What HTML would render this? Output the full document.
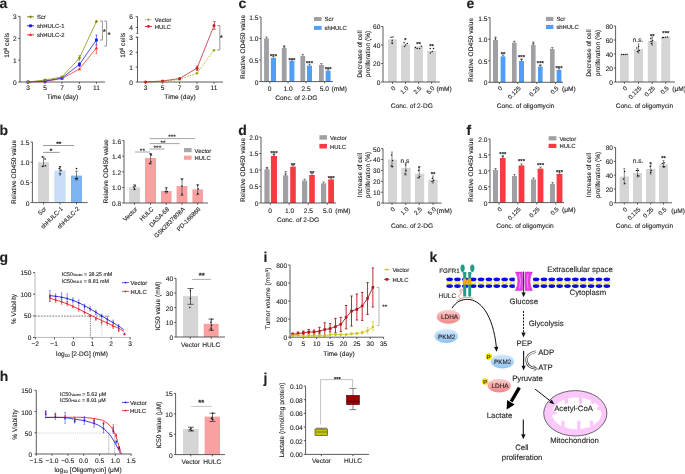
<!DOCTYPE html>
<html><head><meta charset="utf-8"><style>
html,body{margin:0;padding:0;background:#fff;width:685px;height:474px;overflow:hidden}
text{stroke:#231f20;stroke-width:0.12px}
svg{display:block;will-change:transform;text-rendering:geometricPrecision;font-family:"Liberation Sans",sans-serif;fill:#231f20}
</style></head><body>
<svg width="685" height="474" viewBox="0 0 685 474">
<rect width="685" height="474" fill="#fff"/>
<text x="-0.6" y="7.7" font-size="14" font-weight="bold">a</text>
<line x1="20" y1="16.4" x2="20" y2="82" stroke="#333333" stroke-width="0.8"/>
<line x1="18.2" y1="16.4" x2="20" y2="16.4" stroke="#333333" stroke-width="0.8"/>
<text x="16.6" y="19.38" font-size="6.6" text-anchor="end">3</text>
<line x1="18.2" y1="38.3" x2="20" y2="38.3" stroke="#333333" stroke-width="0.8"/>
<text x="16.6" y="41.28" font-size="6.6" text-anchor="end">2</text>
<line x1="18.2" y1="60.2" x2="20" y2="60.2" stroke="#333333" stroke-width="0.8"/>
<text x="16.6" y="63.18" font-size="6.6" text-anchor="end">1</text>
<line x1="18.2" y1="82" x2="20" y2="82" stroke="#333333" stroke-width="0.8"/>
<text x="16.6" y="84.98" font-size="6.6" text-anchor="end">0</text>
<line x1="20" y1="82" x2="105" y2="82" stroke="#333333" stroke-width="0.8"/>
<line x1="28" y1="82" x2="28" y2="83.8" stroke="#333333" stroke-width="0.8"/>
<text x="28" y="90.3" font-size="6.6" text-anchor="middle">3</text>
<line x1="45" y1="82" x2="45" y2="83.8" stroke="#333333" stroke-width="0.8"/>
<text x="45" y="90.3" font-size="6.6" text-anchor="middle">5</text>
<line x1="62" y1="82" x2="62" y2="83.8" stroke="#333333" stroke-width="0.8"/>
<text x="62" y="90.3" font-size="6.6" text-anchor="middle">7</text>
<line x1="79.4" y1="82" x2="79.4" y2="83.8" stroke="#333333" stroke-width="0.8"/>
<text x="79.4" y="90.3" font-size="6.6" text-anchor="middle">9</text>
<line x1="96.4" y1="82" x2="96.4" y2="83.8" stroke="#333333" stroke-width="0.8"/>
<text x="96.4" y="90.3" font-size="6.6" text-anchor="middle">11</text>
<text x="62.5" y="98.9" font-size="6.6" text-anchor="middle">Time (day)</text>
<text x="9.3" y="45.2" font-size="6.6" text-anchor="middle" transform="rotate(-90 9.3 45.2)">10<tspan font-size="4.8" dy="-2.6">6</tspan><tspan dy="2.6"> cells</tspan></text>
<line x1="79.4" y1="60.5" x2="79.4" y2="55.5" stroke="#878700" stroke-width="0.6"/>
<line x1="78.5" y1="55.5" x2="80.3" y2="55.5" stroke="#878700" stroke-width="0.6"/>
<line x1="78.5" y1="60.5" x2="80.3" y2="60.5" stroke="#878700" stroke-width="0.6"/>
<line x1="96.4" y1="45" x2="96.4" y2="35" stroke="#1414f5" stroke-width="0.6"/>
<line x1="95.5" y1="35" x2="97.3" y2="35" stroke="#1414f5" stroke-width="0.6"/>
<line x1="95.5" y1="45" x2="97.3" y2="45" stroke="#1414f5" stroke-width="0.6"/>
<line x1="96.4" y1="53.6" x2="96.4" y2="45.6" stroke="#ff2a2a" stroke-width="0.6"/>
<line x1="95.5" y1="45.6" x2="97.3" y2="45.6" stroke="#ff2a2a" stroke-width="0.6"/>
<line x1="95.5" y1="53.6" x2="97.3" y2="53.6" stroke="#ff2a2a" stroke-width="0.6"/>
<line x1="79.4" y1="66.5" x2="79.4" y2="62.5" stroke="#1414f5" stroke-width="0.6"/>
<line x1="78.5" y1="62.5" x2="80.3" y2="62.5" stroke="#1414f5" stroke-width="0.6"/>
<line x1="78.5" y1="66.5" x2="80.3" y2="66.5" stroke="#1414f5" stroke-width="0.6"/>
<polyline points="28,82 45,81.5 62,78.5 79.4,69 96.4,48" stroke="#ff2a2a" stroke-width="0.75" fill="none"/>
<polyline points="28,82 45,81 62,78 79.4,64.5 96.4,40" stroke="#1414f5" stroke-width="0.75" fill="none"/>
<polyline points="28,82 45,80 62,77 79.4,58 96.4,21.5" stroke="#878700" stroke-width="0.75" fill="none"/>
<path d="M28 80.2L26.3 83.2L29.7 83.2Z" stroke="none" stroke-width="0.8" fill="#ff2a2a"/>
<path d="M45 79.7L43.3 82.7L46.7 82.7Z" stroke="none" stroke-width="0.8" fill="#ff2a2a"/>
<path d="M62 76.7L60.3 79.7L63.7 79.7Z" stroke="none" stroke-width="0.8" fill="#ff2a2a"/>
<path d="M79.4 67.2L77.7 70.2L81.1 70.2Z" stroke="none" stroke-width="0.8" fill="#ff2a2a"/>
<path d="M96.4 46.2L94.7 49.2L98.1 49.2Z" stroke="none" stroke-width="0.8" fill="#ff2a2a"/>
<rect x="26.6" y="80.6" width="2.8" height="2.8" fill="#1414f5"/>
<rect x="43.6" y="79.6" width="2.8" height="2.8" fill="#1414f5"/>
<rect x="60.6" y="76.6" width="2.8" height="2.8" fill="#1414f5"/>
<rect x="78" y="63.1" width="2.8" height="2.8" fill="#1414f5"/>
<rect x="95" y="38.6" width="2.8" height="2.8" fill="#1414f5"/>
<path d="M28 80.3L29.7 82L28 83.7L26.3 82Z" stroke="none" stroke-width="0.8" fill="#878700"/>
<path d="M45 78.3L46.7 80L45 81.7L43.3 80Z" stroke="none" stroke-width="0.8" fill="#878700"/>
<path d="M62 75.3L63.7 77L62 78.7L60.3 77Z" stroke="none" stroke-width="0.8" fill="#878700"/>
<path d="M79.4 56.3L81.1 58L79.4 59.7L77.7 58Z" stroke="none" stroke-width="0.8" fill="#878700"/>
<path d="M96.4 19.8L98.1 21.5L96.4 23.2L94.7 21.5Z" stroke="none" stroke-width="0.8" fill="#878700"/>
<line x1="27" y1="16.8" x2="34" y2="16.8" stroke="#878700" stroke-width="0.9"/>
<path d="M30.5 15.2L32.1 16.8L30.5 18.4L28.9 16.8Z" stroke="none" stroke-width="0.8" fill="#878700"/>
<text x="37" y="19" font-size="5.9">Scr</text>
<line x1="27" y1="25.8" x2="34" y2="25.8" stroke="#1414f5" stroke-width="0.9"/>
<rect x="29.1" y="24.4" width="2.8" height="2.8" fill="#1414f5"/>
<text x="37" y="28" font-size="5.9">shHULC-1</text>
<line x1="27" y1="34.8" x2="34" y2="34.8" stroke="#ff2a2a" stroke-width="0.9"/>
<path d="M30.5 33.1L28.8 36L32.2 36Z" stroke="none" stroke-width="0.8" fill="#ff2a2a"/>
<text x="37" y="37" font-size="5.9">shHULC-2</text>
<polyline points="100,21 102.4,21 102.4,40 100,40" stroke="#6a6a6a" stroke-width="0.7" fill="none"/>
<text x="104.3" y="34.2" font-size="6.8" text-anchor="middle" font-weight="bold">*</text>
<polyline points="104.2,21 106.6,21 106.6,46 104.2,46" stroke="#6a6a6a" stroke-width="0.7" fill="none"/>
<text x="109" y="37" font-size="6.8" text-anchor="middle" font-weight="bold">*</text>
<line x1="137.5" y1="37.2" x2="137.5" y2="82" stroke="#333333" stroke-width="0.8"/>
<line x1="137.5" y1="16.6" x2="137.5" y2="33.3" stroke="#333333" stroke-width="0.8"/>
<line x1="136.3" y1="33.3" x2="138.3" y2="33.3" stroke="#333333" stroke-width="0.7"/>
<line x1="136.3" y1="37.2" x2="138.3" y2="37.2" stroke="#333333" stroke-width="0.7"/>
<line x1="135.7" y1="16.6" x2="137.5" y2="16.6" stroke="#333333" stroke-width="0.8"/>
<text x="133" y="19.2" font-size="6.6" text-anchor="end">6</text>
<line x1="135.7" y1="27.4" x2="137.5" y2="27.4" stroke="#333333" stroke-width="0.8"/>
<text x="133" y="30" font-size="6.6" text-anchor="end">4</text>
<line x1="135.7" y1="37.2" x2="137.5" y2="37.2" stroke="#333333" stroke-width="0.8"/>
<text x="133" y="39.8" font-size="6.6" text-anchor="end">3</text>
<line x1="135.7" y1="52.3" x2="137.5" y2="52.3" stroke="#333333" stroke-width="0.8"/>
<text x="133" y="54.9" font-size="6.6" text-anchor="end">2</text>
<line x1="135.7" y1="67.1" x2="137.5" y2="67.1" stroke="#333333" stroke-width="0.8"/>
<text x="133" y="69.7" font-size="6.6" text-anchor="end">1</text>
<line x1="135.7" y1="82" x2="137.5" y2="82" stroke="#333333" stroke-width="0.8"/>
<text x="133" y="84.6" font-size="6.6" text-anchor="end">0</text>
<line x1="137.5" y1="82" x2="223" y2="82" stroke="#333333" stroke-width="0.8"/>
<line x1="145.6" y1="82" x2="145.6" y2="83.8" stroke="#333333" stroke-width="0.8"/>
<text x="145.6" y="90.3" font-size="6.6" text-anchor="middle">3</text>
<line x1="162.6" y1="82" x2="162.6" y2="83.8" stroke="#333333" stroke-width="0.8"/>
<text x="162.6" y="90.3" font-size="6.6" text-anchor="middle">5</text>
<line x1="179.6" y1="82" x2="179.6" y2="83.8" stroke="#333333" stroke-width="0.8"/>
<text x="179.6" y="90.3" font-size="6.6" text-anchor="middle">7</text>
<line x1="197" y1="82" x2="197" y2="83.8" stroke="#333333" stroke-width="0.8"/>
<text x="197" y="90.3" font-size="6.6" text-anchor="middle">9</text>
<line x1="214" y1="82" x2="214" y2="83.8" stroke="#333333" stroke-width="0.8"/>
<text x="214" y="90.3" font-size="6.6" text-anchor="middle">11</text>
<text x="180" y="98.9" font-size="6.6" text-anchor="middle">Time (day)</text>
<text x="125.3" y="45.2" font-size="6.6" text-anchor="middle" transform="rotate(-90 125.3 45.2)">10<tspan font-size="4.8" dy="-2.6">6</tspan><tspan dy="2.6"> cells</tspan></text>
<line x1="197.2" y1="70.6" x2="197.2" y2="66" stroke="#bf1e2d" stroke-width="0.7"/>
<line x1="195.9" y1="66" x2="198.5" y2="66" stroke="#bf1e2d" stroke-width="0.7"/>
<line x1="195.9" y1="70.6" x2="198.5" y2="70.6" stroke="#bf1e2d" stroke-width="0.7"/>
<line x1="214.4" y1="29.3" x2="214.4" y2="21.6" stroke="#bf1e2d" stroke-width="0.7"/>
<line x1="213.1" y1="21.6" x2="215.7" y2="21.6" stroke="#bf1e2d" stroke-width="0.7"/>
<line x1="213.1" y1="29.3" x2="215.7" y2="29.3" stroke="#bf1e2d" stroke-width="0.7"/>
<polyline points="145.6,82 162.6,81.5 179.6,79.5 197,73.3 214,50.2" stroke="#a4a400" stroke-width="0.8" fill="none" stroke-dasharray="1.6,1.2"/>
<polyline points="145.6,82 162.6,81 179.6,78.5 197,68.2 214,25.6" stroke="#bf1e2d" stroke-width="0.75" fill="none"/>
<circle cx="145.6" cy="82" r="1.3" fill="#a4a400" stroke="none" stroke-width="0.5"/>
<circle cx="162.6" cy="81.5" r="1.3" fill="#a4a400" stroke="none" stroke-width="0.5"/>
<circle cx="179.6" cy="79.5" r="1.3" fill="#a4a400" stroke="none" stroke-width="0.5"/>
<circle cx="197" cy="73.3" r="1.3" fill="#a4a400" stroke="none" stroke-width="0.5"/>
<circle cx="214" cy="50.2" r="1.3" fill="#a4a400" stroke="none" stroke-width="0.5"/>
<circle cx="145.6" cy="82" r="1.5" fill="#bf1e2d" stroke="none" stroke-width="0.5"/>
<circle cx="162.6" cy="81" r="1.5" fill="#bf1e2d" stroke="none" stroke-width="0.5"/>
<circle cx="179.6" cy="78.5" r="1.5" fill="#bf1e2d" stroke="none" stroke-width="0.5"/>
<circle cx="197" cy="68.2" r="1.5" fill="#bf1e2d" stroke="none" stroke-width="0.5"/>
<circle cx="214" cy="25.6" r="1.5" fill="#bf1e2d" stroke="none" stroke-width="0.5"/>
<line x1="145" y1="19.6" x2="152" y2="19.6" stroke="#a4a400" stroke-width="0.8" stroke-dasharray="1.2,1"/>
<circle cx="148.4" cy="19.6" r="1.2" fill="#a4a400" stroke="none" stroke-width="0.5"/>
<text x="154.8" y="21.8" font-size="5.9">Vector</text>
<line x1="145" y1="26.4" x2="152" y2="26.4" stroke="#bf1e2d" stroke-width="0.9"/>
<circle cx="148.4" cy="26.4" r="1.4" fill="#bf1e2d" stroke="none" stroke-width="0.5"/>
<text x="154.8" y="28.6" font-size="5.9">HULC</text>
<polyline points="217.2,25.6 219.8,25.6 219.8,50 217.2,50" stroke="#6a6a6a" stroke-width="0.7" fill="none"/>
<text x="221.4" y="40.3" font-size="6.8" text-anchor="middle" font-weight="bold">*</text>
<text x="-0.4" y="134.6" font-size="14" font-weight="bold">b</text>
<line x1="32.4" y1="142" x2="32.4" y2="202.6" stroke="#333333" stroke-width="0.8"/>
<line x1="30.6" y1="142" x2="32.4" y2="142" stroke="#333333" stroke-width="0.8"/>
<text x="29.4" y="144.98" font-size="6.6" text-anchor="end">1.5</text>
<line x1="30.6" y1="162.2" x2="32.4" y2="162.2" stroke="#333333" stroke-width="0.8"/>
<text x="29.4" y="165.18" font-size="6.6" text-anchor="end">1.0</text>
<line x1="30.6" y1="182.4" x2="32.4" y2="182.4" stroke="#333333" stroke-width="0.8"/>
<text x="29.4" y="185.38" font-size="6.6" text-anchor="end">0.5</text>
<line x1="30.6" y1="202.6" x2="32.4" y2="202.6" stroke="#333333" stroke-width="0.8"/>
<text x="29.4" y="205.58" font-size="6.6" text-anchor="end">0</text>
<rect x="38" y="162.2" width="11" height="40.4" fill="#d4d4d4"/>
<rect x="54.4" y="170.4" width="11.2" height="32.2" fill="#c8ddf7"/>
<rect x="71" y="175.6" width="11" height="27" fill="#7eb3f1"/>
<line x1="32.4" y1="202.6" x2="87.6" y2="202.6" stroke="#333333" stroke-width="0.8"/>
<line x1="43.5" y1="202.6" x2="43.5" y2="204.4" stroke="#333333" stroke-width="0.8"/>
<line x1="60" y1="202.6" x2="60" y2="204.4" stroke="#333333" stroke-width="0.8"/>
<line x1="76.5" y1="202.6" x2="76.5" y2="204.4" stroke="#333333" stroke-width="0.8"/>
<line x1="43.5" y1="166.4" x2="43.5" y2="157" stroke="#333333" stroke-width="0.6"/>
<line x1="42.2" y1="157" x2="44.8" y2="157" stroke="#333333" stroke-width="0.6"/>
<line x1="42.2" y1="166.4" x2="44.8" y2="166.4" stroke="#333333" stroke-width="0.6"/>
<line x1="60" y1="173.5" x2="60" y2="166.8" stroke="#333333" stroke-width="0.6"/>
<line x1="58.7" y1="166.8" x2="61.3" y2="166.8" stroke="#333333" stroke-width="0.6"/>
<line x1="58.7" y1="173.5" x2="61.3" y2="173.5" stroke="#333333" stroke-width="0.6"/>
<line x1="76.5" y1="180" x2="76.5" y2="171.2" stroke="#333333" stroke-width="0.6"/>
<line x1="75.2" y1="171.2" x2="77.8" y2="171.2" stroke="#333333" stroke-width="0.6"/>
<line x1="75.2" y1="180" x2="77.8" y2="180" stroke="#333333" stroke-width="0.6"/>
<circle cx="42.4" cy="156.9" r="0.8" fill="#111" stroke="none" stroke-width="0.5"/>
<circle cx="45.1" cy="159.1" r="0.8" fill="#111" stroke="none" stroke-width="0.5"/>
<circle cx="42.4" cy="166.4" r="0.8" fill="#111" stroke="none" stroke-width="0.5"/>
<circle cx="45.5" cy="165.7" r="0.8" fill="#111" stroke="none" stroke-width="0.5"/>
<circle cx="60.1" cy="166.8" r="0.8" fill="#111" stroke="none" stroke-width="0.5"/>
<circle cx="59.3" cy="168.6" r="0.8" fill="#111" stroke="none" stroke-width="0.5"/>
<circle cx="61" cy="170.4" r="0.8" fill="#111" stroke="none" stroke-width="0.5"/>
<circle cx="60.1" cy="174.8" r="0.8" fill="#111" stroke="none" stroke-width="0.5"/>
<circle cx="76.5" cy="168.6" r="0.8" fill="#111" stroke="none" stroke-width="0.5"/>
<circle cx="75.6" cy="178.6" r="0.8" fill="#111" stroke="none" stroke-width="0.5"/>
<circle cx="77.4" cy="178.6" r="0.8" fill="#111" stroke="none" stroke-width="0.5"/>
<line x1="43.1" y1="145.5" x2="74.3" y2="145.5" stroke="#555" stroke-width="0.6"/>
<text x="58.8" y="145.8" font-size="6.6" text-anchor="middle" font-weight="bold">**</text>
<line x1="43.1" y1="152.4" x2="59.7" y2="152.4" stroke="#555" stroke-width="0.6"/>
<text x="51.1" y="152.9" font-size="6.6" text-anchor="middle" font-weight="bold">*</text>
<text x="46.8" y="209.2" font-size="6.1" text-anchor="end" transform="rotate(-45 46.8 209.2)">Scr</text>
<text x="63.3" y="209.2" font-size="6.1" text-anchor="end" transform="rotate(-45 63.3 209.2)">shHULC-1</text>
<text x="79.8" y="209.2" font-size="6.1" text-anchor="end" transform="rotate(-45 79.8 209.2)">shHULC-2</text>
<text x="16.4" y="172" font-size="6.6" text-anchor="middle" transform="rotate(-90 16.4 172)">Relative OD450 value</text>
<line x1="124" y1="140.6" x2="124" y2="203" stroke="#333333" stroke-width="0.8"/>
<line x1="122.2" y1="140.6" x2="124" y2="140.6" stroke="#333333" stroke-width="0.8"/>
<text x="121.2" y="143.58" font-size="6.6" text-anchor="end">1.6</text>
<line x1="122.2" y1="156.2" x2="124" y2="156.2" stroke="#333333" stroke-width="0.8"/>
<text x="121.2" y="159.18" font-size="6.6" text-anchor="end">1.4</text>
<line x1="122.2" y1="171.8" x2="124" y2="171.8" stroke="#333333" stroke-width="0.8"/>
<text x="121.2" y="174.78" font-size="6.6" text-anchor="end">1.2</text>
<line x1="122.2" y1="187.4" x2="124" y2="187.4" stroke="#333333" stroke-width="0.8"/>
<text x="121.2" y="190.38" font-size="6.6" text-anchor="end">1.0</text>
<line x1="122.2" y1="203" x2="124" y2="203" stroke="#333333" stroke-width="0.8"/>
<text x="121.2" y="205.98" font-size="6.6" text-anchor="end">0.8</text>
<rect x="129" y="187.4" width="11" height="15.6" fill="#d4d4d4"/>
<rect x="145" y="158" width="11" height="45" fill="#f9a1a1"/>
<rect x="161" y="191" width="10.6" height="12" fill="#f9a1a1"/>
<rect x="176.6" y="186" width="10.8" height="17" fill="#f9a1a1"/>
<rect x="192.4" y="189.4" width="10.6" height="13.6" fill="#f9a1a1"/>
<line x1="124" y1="203" x2="208" y2="203" stroke="#333333" stroke-width="0.8"/>
<line x1="134.5" y1="203" x2="134.5" y2="204.8" stroke="#333333" stroke-width="0.8"/>
<line x1="150.5" y1="203" x2="150.5" y2="204.8" stroke="#333333" stroke-width="0.8"/>
<line x1="166.3" y1="203" x2="166.3" y2="204.8" stroke="#333333" stroke-width="0.8"/>
<line x1="182" y1="203" x2="182" y2="204.8" stroke="#333333" stroke-width="0.8"/>
<line x1="197.7" y1="203" x2="197.7" y2="204.8" stroke="#333333" stroke-width="0.8"/>
<line x1="134.5" y1="189.6" x2="134.5" y2="184.8" stroke="#333333" stroke-width="0.6"/>
<line x1="133" y1="184.8" x2="136" y2="184.8" stroke="#333333" stroke-width="0.6"/>
<line x1="133" y1="189.6" x2="136" y2="189.6" stroke="#333333" stroke-width="0.6"/>
<line x1="150.5" y1="163.9" x2="150.5" y2="153.5" stroke="#333333" stroke-width="0.6"/>
<line x1="149" y1="153.5" x2="152" y2="153.5" stroke="#333333" stroke-width="0.6"/>
<line x1="149" y1="163.9" x2="152" y2="163.9" stroke="#333333" stroke-width="0.6"/>
<line x1="166.3" y1="193" x2="166.3" y2="187.4" stroke="#333333" stroke-width="0.6"/>
<line x1="164.8" y1="187.4" x2="167.8" y2="187.4" stroke="#333333" stroke-width="0.6"/>
<line x1="164.8" y1="193" x2="167.8" y2="193" stroke="#333333" stroke-width="0.6"/>
<line x1="182" y1="195.4" x2="182" y2="178.6" stroke="#333333" stroke-width="0.6"/>
<line x1="180.5" y1="178.6" x2="183.5" y2="178.6" stroke="#333333" stroke-width="0.6"/>
<line x1="180.5" y1="195.4" x2="183.5" y2="195.4" stroke="#333333" stroke-width="0.6"/>
<line x1="197.7" y1="194.6" x2="197.7" y2="184.6" stroke="#333333" stroke-width="0.6"/>
<line x1="196.2" y1="184.6" x2="199.2" y2="184.6" stroke="#333333" stroke-width="0.6"/>
<line x1="196.2" y1="194.6" x2="199.2" y2="194.6" stroke="#333333" stroke-width="0.6"/>
<circle cx="133.5" cy="187" r="0.75" fill="#111" stroke="none" stroke-width="0.5"/>
<circle cx="135.5" cy="186" r="0.75" fill="#111" stroke="none" stroke-width="0.5"/>
<circle cx="134.5" cy="189" r="0.75" fill="#111" stroke="none" stroke-width="0.5"/>
<circle cx="149.5" cy="163.5" r="0.75" fill="#111" stroke="none" stroke-width="0.5"/>
<circle cx="151" cy="162" r="0.75" fill="#111" stroke="none" stroke-width="0.5"/>
<circle cx="150.5" cy="154.5" r="0.75" fill="#111" stroke="none" stroke-width="0.5"/>
<circle cx="151.5" cy="155" r="0.75" fill="#111" stroke="none" stroke-width="0.5"/>
<circle cx="165.3" cy="191.5" r="0.75" fill="#111" stroke="none" stroke-width="0.5"/>
<circle cx="167.3" cy="191.5" r="0.75" fill="#111" stroke="none" stroke-width="0.5"/>
<circle cx="166.3" cy="189" r="0.75" fill="#111" stroke="none" stroke-width="0.5"/>
<circle cx="182" cy="179.5" r="0.75" fill="#111" stroke="none" stroke-width="0.5"/>
<circle cx="182" cy="186" r="0.75" fill="#111" stroke="none" stroke-width="0.5"/>
<circle cx="182" cy="194" r="0.75" fill="#111" stroke="none" stroke-width="0.5"/>
<circle cx="197.7" cy="185.5" r="0.75" fill="#111" stroke="none" stroke-width="0.5"/>
<circle cx="198.2" cy="189" r="0.75" fill="#111" stroke="none" stroke-width="0.5"/>
<circle cx="197.7" cy="193.5" r="0.75" fill="#111" stroke="none" stroke-width="0.5"/>
<line x1="135" y1="152" x2="150" y2="152" stroke="#666" stroke-width="0.6"/>
<text x="142.4" y="152.9" font-size="6.6" text-anchor="middle">**</text>
<line x1="149.6" y1="149" x2="164.6" y2="149" stroke="#666" stroke-width="0.6"/>
<text x="157.4" y="149.9" font-size="6.6" text-anchor="middle">***</text>
<line x1="149.6" y1="143.6" x2="179.6" y2="143.6" stroke="#666" stroke-width="0.6"/>
<text x="163" y="144.6" font-size="6.6" text-anchor="middle">**</text>
<line x1="149.6" y1="138.6" x2="195" y2="138.6" stroke="#666" stroke-width="0.6"/>
<text x="172" y="139.4" font-size="6.6" text-anchor="middle">***</text>
<rect x="184" y="148" width="7.6" height="4.2" fill="#a8a8a8"/>
<text x="194.6" y="152.5" font-size="5.9">Vector</text>
<rect x="184" y="155.6" width="7.6" height="4.2" fill="#f9a1a1"/>
<text x="194.6" y="160.1" font-size="5.9">HULC</text>
<text x="137.8" y="209.6" font-size="6.1" text-anchor="end" transform="rotate(-45 137.8 209.6)">Vector</text>
<text x="153.8" y="209.6" font-size="6.1" text-anchor="end" transform="rotate(-45 153.8 209.6)">HULC</text>
<text x="169.6" y="209.6" font-size="6.1" text-anchor="end" transform="rotate(-45 169.6 209.6)">DASA-58</text>
<text x="185.3" y="209.6" font-size="6.1" text-anchor="end" transform="rotate(-45 185.3 209.6)">GSK2837808A</text>
<text x="201" y="209.6" font-size="6.1" text-anchor="end" transform="rotate(-45 201 209.6)">PD-166866</text>
<text x="107.8" y="171.5" font-size="6.6" text-anchor="middle" transform="rotate(-90 107.8 171.5)">Relative OD450 value</text>
<text x="238.6" y="8.2" font-size="14" font-weight="bold">c</text>
<line x1="261" y1="17" x2="261" y2="81.6" stroke="#333333" stroke-width="0.8"/>
<line x1="259.2" y1="17" x2="261" y2="17" stroke="#333333" stroke-width="0.8"/>
<text x="258.4" y="19.98" font-size="6.6" text-anchor="end">1.5</text>
<line x1="259.2" y1="38.5" x2="261" y2="38.5" stroke="#333333" stroke-width="0.8"/>
<text x="258.4" y="41.48" font-size="6.6" text-anchor="end">1.0</text>
<line x1="259.2" y1="60" x2="261" y2="60" stroke="#333333" stroke-width="0.8"/>
<text x="258.4" y="62.98" font-size="6.6" text-anchor="end">0.5</text>
<line x1="259.2" y1="81.6" x2="261" y2="81.6" stroke="#333333" stroke-width="0.8"/>
<text x="258.4" y="84.58" font-size="6.6" text-anchor="end">0</text>
<rect x="264.1" y="38.4" width="4.8" height="43.2" fill="#a09fa4"/>
<rect x="281.8" y="48" width="4.8" height="33.6" fill="#a09fa4"/>
<rect x="300.4" y="56" width="4.8" height="25.6" fill="#a09fa4"/>
<rect x="319" y="65" width="4.8" height="16.6" fill="#a09fa4"/>
<rect x="270.9" y="57.8" width="5.1" height="23.8" fill="#4f9ef7"/>
<rect x="289.4" y="61" width="5" height="20.6" fill="#4f9ef7"/>
<rect x="307" y="65.6" width="5" height="16" fill="#4f9ef7"/>
<rect x="325.6" y="70.6" width="5" height="11" fill="#4f9ef7"/>
<line x1="266.5" y1="38.4" x2="266.5" y2="37" stroke="#333333" stroke-width="0.6"/>
<line x1="265.3" y1="37" x2="267.7" y2="37" stroke="#333333" stroke-width="0.6"/>
<line x1="284.2" y1="48" x2="284.2" y2="46.6" stroke="#333333" stroke-width="0.6"/>
<line x1="283" y1="46.6" x2="285.4" y2="46.6" stroke="#333333" stroke-width="0.6"/>
<line x1="302.8" y1="56" x2="302.8" y2="54.6" stroke="#333333" stroke-width="0.6"/>
<line x1="301.6" y1="54.6" x2="304" y2="54.6" stroke="#333333" stroke-width="0.6"/>
<line x1="321.4" y1="65" x2="321.4" y2="63.6" stroke="#333333" stroke-width="0.6"/>
<line x1="320.2" y1="63.6" x2="322.6" y2="63.6" stroke="#333333" stroke-width="0.6"/>
<line x1="273.45" y1="57.8" x2="273.45" y2="56.4" stroke="#333333" stroke-width="0.6"/>
<line x1="272.25" y1="56.4" x2="274.65" y2="56.4" stroke="#333333" stroke-width="0.6"/>
<line x1="291.9" y1="61" x2="291.9" y2="59.6" stroke="#333333" stroke-width="0.6"/>
<line x1="290.7" y1="59.6" x2="293.1" y2="59.6" stroke="#333333" stroke-width="0.6"/>
<line x1="309.5" y1="65.6" x2="309.5" y2="64.2" stroke="#333333" stroke-width="0.6"/>
<line x1="308.3" y1="64.2" x2="310.7" y2="64.2" stroke="#333333" stroke-width="0.6"/>
<line x1="328.1" y1="70.6" x2="328.1" y2="69.2" stroke="#333333" stroke-width="0.6"/>
<line x1="326.9" y1="69.2" x2="329.3" y2="69.2" stroke="#333333" stroke-width="0.6"/>
<line x1="284.2" y1="48" x2="284.2" y2="45.8" stroke="#333333" stroke-width="0.6"/>
<line x1="283" y1="45.8" x2="285.4" y2="45.8" stroke="#333333" stroke-width="0.6"/>
<line x1="261" y1="81.6" x2="333" y2="81.6" stroke="#333333" stroke-width="0.8"/>
<line x1="269.9" y1="81.6" x2="269.9" y2="83.4" stroke="#333333" stroke-width="0.8"/>
<line x1="288" y1="81.6" x2="288" y2="83.4" stroke="#333333" stroke-width="0.8"/>
<line x1="306.1" y1="81.6" x2="306.1" y2="83.4" stroke="#333333" stroke-width="0.8"/>
<line x1="324.7" y1="81.6" x2="324.7" y2="83.4" stroke="#333333" stroke-width="0.8"/>
<text x="273.5" y="57.54" font-size="5.9" text-anchor="middle" font-weight="bold">***</text>
<text x="291.9" y="61.54" font-size="5.9" text-anchor="middle" font-weight="bold">***</text>
<text x="309.5" y="65.14" font-size="5.9" text-anchor="middle" font-weight="bold">***</text>
<text x="328.1" y="70.55" font-size="5.9" text-anchor="middle" font-weight="bold">***</text>
<rect x="314" y="17" width="7.6" height="4" fill="#a09fa4"/>
<text x="324.6" y="21.4" font-size="5.9">Scr</text>
<rect x="314" y="25.9" width="7.6" height="4" fill="#4f9ef7"/>
<text x="324.6" y="30.3" font-size="5.9">shHULC</text>
<text x="269.6" y="91" font-size="6.6" text-anchor="middle">0</text>
<text x="288" y="91" font-size="6.6" text-anchor="middle">1.0</text>
<text x="306" y="91" font-size="6.6" text-anchor="middle">2.5</text>
<text x="324.3" y="91" font-size="6.6" text-anchor="middle">5.0</text>
<text x="331.5" y="91" font-size="6.6">(mM)</text>
<text x="296.4" y="100" font-size="6.6" text-anchor="middle">Conc. of 2-DG</text>
<text x="245" y="47" font-size="6.6" text-anchor="middle" transform="rotate(-90 245 47)">Relative OD450 value</text>
<line x1="383" y1="26.5" x2="383" y2="82" stroke="#333333" stroke-width="0.8"/>
<line x1="381.2" y1="26.5" x2="383" y2="26.5" stroke="#333333" stroke-width="0.8"/>
<text x="380.4" y="29.48" font-size="6.6" text-anchor="end">60</text>
<line x1="381.2" y1="45" x2="383" y2="45" stroke="#333333" stroke-width="0.8"/>
<text x="380.4" y="47.98" font-size="6.6" text-anchor="end">40</text>
<line x1="381.2" y1="63.5" x2="383" y2="63.5" stroke="#333333" stroke-width="0.8"/>
<text x="380.4" y="66.48" font-size="6.6" text-anchor="end">20</text>
<line x1="381.2" y1="82" x2="383" y2="82" stroke="#333333" stroke-width="0.8"/>
<text x="380.4" y="84.98" font-size="6.6" text-anchor="end">0</text>
<rect x="388" y="39.4" width="8.8" height="42.6" fill="#d5d5d5"/>
<rect x="401" y="44.6" width="9" height="37.4" fill="#d5d5d5"/>
<rect x="414" y="46.4" width="8.9" height="35.6" fill="#d5d5d5"/>
<rect x="427.2" y="50.9" width="8.8" height="31.1" fill="#d5d5d5"/>
<line x1="392.2" y1="42.3" x2="392.2" y2="42.3" stroke="#333333" stroke-width="0.55"/>
<line x1="391.3" y1="42.3" x2="393.1" y2="42.3" stroke="#333333" stroke-width="0.55"/>
<line x1="391.3" y1="42.3" x2="393.1" y2="42.3" stroke="#333333" stroke-width="0.55"/>
<circle cx="391" cy="37.3" r="0.75" fill="#1a1a1a" stroke="none" stroke-width="0.5"/>
<circle cx="393" cy="37" r="0.75" fill="#1a1a1a" stroke="none" stroke-width="0.5"/>
<circle cx="392.2" cy="40.2" r="0.75" fill="#1a1a1a" stroke="none" stroke-width="0.5"/>
<circle cx="392.2" cy="43.5" r="0.75" fill="#1a1a1a" stroke="none" stroke-width="0.5"/>
<circle cx="404" cy="42.7" r="0.75" fill="#1a1a1a" stroke="none" stroke-width="0.5"/>
<circle cx="404.5" cy="46.4" r="0.75" fill="#1a1a1a" stroke="none" stroke-width="0.5"/>
<circle cx="405.7" cy="45" r="0.75" fill="#1a1a1a" stroke="none" stroke-width="0.5"/>
<circle cx="407.3" cy="43.5" r="0.75" fill="#1a1a1a" stroke="none" stroke-width="0.5"/>
<circle cx="415.4" cy="47.4" r="0.75" fill="#1a1a1a" stroke="none" stroke-width="0.5"/>
<circle cx="417.1" cy="48.4" r="0.75" fill="#1a1a1a" stroke="none" stroke-width="0.5"/>
<circle cx="419.6" cy="48.4" r="0.75" fill="#1a1a1a" stroke="none" stroke-width="0.5"/>
<circle cx="421.4" cy="46.2" r="0.75" fill="#1a1a1a" stroke="none" stroke-width="0.5"/>
<circle cx="430.2" cy="48.6" r="0.75" fill="#1a1a1a" stroke="none" stroke-width="0.5"/>
<circle cx="433.5" cy="48.6" r="0.75" fill="#1a1a1a" stroke="none" stroke-width="0.5"/>
<circle cx="432.2" cy="51.4" r="0.75" fill="#1a1a1a" stroke="none" stroke-width="0.5"/>
<circle cx="430.4" cy="53" r="0.75" fill="#1a1a1a" stroke="none" stroke-width="0.5"/>
<line x1="383" y1="82" x2="439.8" y2="82" stroke="#333333" stroke-width="0.8"/>
<line x1="392.5" y1="82" x2="392.5" y2="83.8" stroke="#333333" stroke-width="0.8"/>
<line x1="405.5" y1="82" x2="405.5" y2="83.8" stroke="#333333" stroke-width="0.8"/>
<line x1="418.6" y1="82" x2="418.6" y2="83.8" stroke="#333333" stroke-width="0.8"/>
<line x1="431.6" y1="82" x2="431.6" y2="83.8" stroke="#333333" stroke-width="0.8"/>
<text x="405.5" y="42.14" font-size="5.9" text-anchor="middle" font-weight="bold">*</text>
<text x="418.6" y="45.54" font-size="5.9" text-anchor="middle" font-weight="bold">**</text>
<text x="431.6" y="47.74" font-size="5.9" text-anchor="middle" font-weight="bold">**</text>
<text x="395.8" y="88.6" font-size="6.1" text-anchor="end" transform="rotate(-45 395.8 88.6)">0</text>
<text x="408.8" y="88.6" font-size="6.1" text-anchor="end" transform="rotate(-45 408.8 88.6)">1.0</text>
<text x="421.9" y="88.6" font-size="6.1" text-anchor="end" transform="rotate(-45 421.9 88.6)">2.5</text>
<text x="434.9" y="88.6" font-size="6.1" text-anchor="end" transform="rotate(-45 434.9 88.6)">5.0</text>
<text x="436.4" y="91" font-size="6.6">(mM)</text>
<text x="411.8" y="108" font-size="6.6" text-anchor="middle">Conc. of 2-DG</text>
<text x="361.6" y="54" font-size="6.6" text-anchor="middle" transform="rotate(-90 361.6 54)">Decrease of cell</text>
<text x="369.8" y="54" font-size="6.6" text-anchor="middle" transform="rotate(-90 369.8 54)">proliferation (%)</text>
<text x="238.2" y="135" font-size="14" font-weight="bold">d</text>
<line x1="261" y1="137" x2="261" y2="203" stroke="#333333" stroke-width="0.8"/>
<line x1="259.2" y1="137" x2="261" y2="137" stroke="#333333" stroke-width="0.8"/>
<text x="258.4" y="139.98" font-size="6.6" text-anchor="end">2.0</text>
<line x1="259.2" y1="153.5" x2="261" y2="153.5" stroke="#333333" stroke-width="0.8"/>
<text x="258.4" y="156.48" font-size="6.6" text-anchor="end">1.5</text>
<line x1="259.2" y1="170" x2="261" y2="170" stroke="#333333" stroke-width="0.8"/>
<text x="258.4" y="172.98" font-size="6.6" text-anchor="end">1.0</text>
<line x1="259.2" y1="186.5" x2="261" y2="186.5" stroke="#333333" stroke-width="0.8"/>
<text x="258.4" y="189.48" font-size="6.6" text-anchor="end">0.5</text>
<line x1="259.2" y1="203" x2="261" y2="203" stroke="#333333" stroke-width="0.8"/>
<text x="258.4" y="205.98" font-size="6.6" text-anchor="end">0</text>
<rect x="264.4" y="169.4" width="5.2" height="33.6" fill="#a09fa4"/>
<rect x="283" y="175.4" width="5.2" height="27.6" fill="#a09fa4"/>
<rect x="302" y="180.6" width="5.2" height="22.4" fill="#a09fa4"/>
<rect x="321" y="183.4" width="5.2" height="19.6" fill="#a09fa4"/>
<rect x="270.9" y="156" width="6.1" height="47" fill="#f73b40"/>
<rect x="290.2" y="166.6" width="5.6" height="36.4" fill="#f73b40"/>
<rect x="309.2" y="175" width="5.6" height="28" fill="#f73b40"/>
<rect x="328.2" y="179.4" width="5.8" height="23.6" fill="#f73b40"/>
<line x1="267" y1="169.4" x2="267" y2="168" stroke="#333333" stroke-width="0.6"/>
<line x1="265.8" y1="168" x2="268.2" y2="168" stroke="#333333" stroke-width="0.6"/>
<line x1="285.6" y1="175.4" x2="285.6" y2="174" stroke="#333333" stroke-width="0.6"/>
<line x1="284.4" y1="174" x2="286.8" y2="174" stroke="#333333" stroke-width="0.6"/>
<line x1="304.6" y1="180.6" x2="304.6" y2="179.2" stroke="#333333" stroke-width="0.6"/>
<line x1="303.4" y1="179.2" x2="305.8" y2="179.2" stroke="#333333" stroke-width="0.6"/>
<line x1="323.6" y1="183.4" x2="323.6" y2="182" stroke="#333333" stroke-width="0.6"/>
<line x1="322.4" y1="182" x2="324.8" y2="182" stroke="#333333" stroke-width="0.6"/>
<line x1="273.95" y1="156" x2="273.95" y2="154.6" stroke="#333333" stroke-width="0.6"/>
<line x1="272.75" y1="154.6" x2="275.15" y2="154.6" stroke="#333333" stroke-width="0.6"/>
<line x1="293" y1="166.6" x2="293" y2="165.2" stroke="#333333" stroke-width="0.6"/>
<line x1="291.8" y1="165.2" x2="294.2" y2="165.2" stroke="#333333" stroke-width="0.6"/>
<line x1="312" y1="175" x2="312" y2="173.6" stroke="#333333" stroke-width="0.6"/>
<line x1="310.8" y1="173.6" x2="313.2" y2="173.6" stroke="#333333" stroke-width="0.6"/>
<line x1="331.1" y1="179.4" x2="331.1" y2="178" stroke="#333333" stroke-width="0.6"/>
<line x1="329.9" y1="178" x2="332.3" y2="178" stroke="#333333" stroke-width="0.6"/>
<line x1="267" y1="169.4" x2="267" y2="167.4" stroke="#333333" stroke-width="0.6"/>
<line x1="265.8" y1="167.4" x2="268.2" y2="167.4" stroke="#333333" stroke-width="0.6"/>
<line x1="285.6" y1="175.4" x2="285.6" y2="171.6" stroke="#333333" stroke-width="0.6"/>
<line x1="284.4" y1="171.6" x2="286.8" y2="171.6" stroke="#333333" stroke-width="0.6"/>
<line x1="274" y1="156" x2="274" y2="153.8" stroke="#333333" stroke-width="0.6"/>
<line x1="272.8" y1="153.8" x2="275.2" y2="153.8" stroke="#333333" stroke-width="0.6"/>
<line x1="261" y1="203" x2="336" y2="203" stroke="#333333" stroke-width="0.8"/>
<line x1="270.25" y1="203" x2="270.25" y2="204.8" stroke="#333333" stroke-width="0.8"/>
<line x1="289.2" y1="203" x2="289.2" y2="204.8" stroke="#333333" stroke-width="0.8"/>
<line x1="308.2" y1="203" x2="308.2" y2="204.8" stroke="#333333" stroke-width="0.8"/>
<line x1="327.2" y1="203" x2="327.2" y2="204.8" stroke="#333333" stroke-width="0.8"/>
<text x="274" y="154.75" font-size="5.9" text-anchor="middle" font-weight="bold">***</text>
<text x="293" y="166.55" font-size="5.9" text-anchor="middle" font-weight="bold">**</text>
<text x="312" y="175.15" font-size="5.9" text-anchor="middle" font-weight="bold">**</text>
<text x="331.1" y="179.55" font-size="5.9" text-anchor="middle" font-weight="bold">***</text>
<rect x="319.4" y="135.2" width="7.6" height="4.4" fill="#a09fa4"/>
<text x="330" y="139.8" font-size="5.9">Vector</text>
<rect x="319.4" y="143.9" width="7.6" height="4.6" fill="#f73b40"/>
<text x="330" y="148.6" font-size="5.9">HULC</text>
<text x="270" y="213" font-size="6.6" text-anchor="middle">0</text>
<text x="289.6" y="213" font-size="6.6" text-anchor="middle">1.0</text>
<text x="308.4" y="213" font-size="6.6" text-anchor="middle">2.5</text>
<text x="327.6" y="213" font-size="6.6" text-anchor="middle">5.0</text>
<text x="335.2" y="213" font-size="6.6">(mM)</text>
<text x="298" y="222.3" font-size="6.6" text-anchor="middle">Conc. of 2-DG</text>
<text x="245" y="170" font-size="6.6" text-anchor="middle" transform="rotate(-90 245 170)">Relative OD450 value</text>
<line x1="383" y1="148.6" x2="383" y2="203.1" stroke="#333333" stroke-width="0.8"/>
<line x1="381.2" y1="148.6" x2="383" y2="148.6" stroke="#333333" stroke-width="0.8"/>
<text x="380.4" y="151.58" font-size="6.6" text-anchor="end">50</text>
<line x1="381.2" y1="159.5" x2="383" y2="159.5" stroke="#333333" stroke-width="0.8"/>
<text x="380.4" y="162.48" font-size="6.6" text-anchor="end">40</text>
<line x1="381.2" y1="170.4" x2="383" y2="170.4" stroke="#333333" stroke-width="0.8"/>
<text x="380.4" y="173.38" font-size="6.6" text-anchor="end">30</text>
<line x1="381.2" y1="181.3" x2="383" y2="181.3" stroke="#333333" stroke-width="0.8"/>
<text x="380.4" y="184.28" font-size="6.6" text-anchor="end">20</text>
<line x1="381.2" y1="192.2" x2="383" y2="192.2" stroke="#333333" stroke-width="0.8"/>
<text x="380.4" y="195.18" font-size="6.6" text-anchor="end">10</text>
<line x1="381.2" y1="203.1" x2="383" y2="203.1" stroke="#333333" stroke-width="0.8"/>
<text x="380.4" y="206.08" font-size="6.6" text-anchor="end">0</text>
<rect x="388" y="159.6" width="9" height="43.5" fill="#d5d5d5"/>
<rect x="401.4" y="168" width="9.2" height="35.1" fill="#d5d5d5"/>
<rect x="415" y="173.6" width="9.2" height="29.5" fill="#d5d5d5"/>
<rect x="428.2" y="179.6" width="9.4" height="23.5" fill="#d5d5d5"/>
<line x1="392" y1="167" x2="392" y2="152" stroke="#333333" stroke-width="0.55"/>
<line x1="391.1" y1="152" x2="392.9" y2="152" stroke="#333333" stroke-width="0.55"/>
<line x1="391.1" y1="167" x2="392.9" y2="167" stroke="#333333" stroke-width="0.55"/>
<line x1="405.8" y1="175" x2="405.8" y2="163.6" stroke="#333333" stroke-width="0.55"/>
<line x1="404.9" y1="163.6" x2="406.7" y2="163.6" stroke="#333333" stroke-width="0.55"/>
<line x1="404.9" y1="175" x2="406.7" y2="175" stroke="#333333" stroke-width="0.55"/>
<line x1="419.2" y1="178" x2="419.2" y2="169" stroke="#333333" stroke-width="0.55"/>
<line x1="418.3" y1="169" x2="420.1" y2="169" stroke="#333333" stroke-width="0.55"/>
<line x1="418.3" y1="178" x2="420.1" y2="178" stroke="#333333" stroke-width="0.55"/>
<line x1="433" y1="183" x2="433" y2="176" stroke="#333333" stroke-width="0.55"/>
<line x1="432.1" y1="176" x2="433.9" y2="176" stroke="#333333" stroke-width="0.55"/>
<line x1="432.1" y1="183" x2="433.9" y2="183" stroke="#333333" stroke-width="0.55"/>
<circle cx="391.6" cy="155" r="0.75" fill="#1a1a1a" stroke="none" stroke-width="0.5"/>
<circle cx="392.6" cy="160.6" r="0.75" fill="#1a1a1a" stroke="none" stroke-width="0.5"/>
<circle cx="391.2" cy="166" r="0.75" fill="#1a1a1a" stroke="none" stroke-width="0.5"/>
<circle cx="392.6" cy="166.4" r="0.75" fill="#1a1a1a" stroke="none" stroke-width="0.5"/>
<circle cx="405.6" cy="165" r="0.75" fill="#1a1a1a" stroke="none" stroke-width="0.5"/>
<circle cx="406" cy="170.5" r="0.75" fill="#1a1a1a" stroke="none" stroke-width="0.5"/>
<circle cx="405" cy="174" r="0.75" fill="#1a1a1a" stroke="none" stroke-width="0.5"/>
<circle cx="418.6" cy="170.6" r="0.75" fill="#1a1a1a" stroke="none" stroke-width="0.5"/>
<circle cx="419.6" cy="176.4" r="0.75" fill="#1a1a1a" stroke="none" stroke-width="0.5"/>
<circle cx="418" cy="177.8" r="0.75" fill="#1a1a1a" stroke="none" stroke-width="0.5"/>
<circle cx="432.4" cy="178.2" r="0.75" fill="#1a1a1a" stroke="none" stroke-width="0.5"/>
<circle cx="433.6" cy="180.6" r="0.75" fill="#1a1a1a" stroke="none" stroke-width="0.5"/>
<circle cx="432" cy="181.6" r="0.75" fill="#1a1a1a" stroke="none" stroke-width="0.5"/>
<line x1="383" y1="203.1" x2="441.6" y2="203.1" stroke="#333333" stroke-width="0.8"/>
<line x1="392" y1="203.1" x2="392" y2="204.9" stroke="#333333" stroke-width="0.8"/>
<line x1="405.8" y1="203.1" x2="405.8" y2="204.9" stroke="#333333" stroke-width="0.8"/>
<line x1="419.2" y1="203.1" x2="419.2" y2="204.9" stroke="#333333" stroke-width="0.8"/>
<line x1="433" y1="203.1" x2="433" y2="204.9" stroke="#333333" stroke-width="0.8"/>
<text x="419.2" y="169.55" font-size="5.9" text-anchor="middle" font-weight="bold">*</text>
<text x="433" y="175.95" font-size="5.9" text-anchor="middle" font-weight="bold">**</text>
<text x="405" y="163" font-size="6.6" text-anchor="middle">n.s</text>
<text x="395.3" y="209.6" font-size="6.1" text-anchor="end" transform="rotate(-45 395.3 209.6)">0</text>
<text x="409.1" y="209.6" font-size="6.1" text-anchor="end" transform="rotate(-45 409.1 209.6)">1.0</text>
<text x="422.5" y="209.6" font-size="6.1" text-anchor="end" transform="rotate(-45 422.5 209.6)">2.5</text>
<text x="436.3" y="209.6" font-size="6.1" text-anchor="end" transform="rotate(-45 436.3 209.6)">5.0</text>
<text x="436.6" y="213" font-size="6.6">(mM)</text>
<text x="412" y="228.2" font-size="6.6" text-anchor="middle">Conc. of 2-DG</text>
<text x="361.6" y="175" font-size="6.6" text-anchor="middle" transform="rotate(-90 361.6 175)">Increase of cell</text>
<text x="369.8" y="175" font-size="6.6" text-anchor="middle" transform="rotate(-90 369.8 175)">proliferation (%)</text>
<text x="466.4" y="8.2" font-size="14" font-weight="bold">e</text>
<line x1="490" y1="17.6" x2="490" y2="82.3" stroke="#333333" stroke-width="0.8"/>
<line x1="488.2" y1="17.6" x2="490" y2="17.6" stroke="#333333" stroke-width="0.8"/>
<text x="487.4" y="20.58" font-size="6.6" text-anchor="end">1.5</text>
<line x1="488.2" y1="39.2" x2="490" y2="39.2" stroke="#333333" stroke-width="0.8"/>
<text x="487.4" y="42.18" font-size="6.6" text-anchor="end">1.0</text>
<line x1="488.2" y1="60.8" x2="490" y2="60.8" stroke="#333333" stroke-width="0.8"/>
<text x="487.4" y="63.78" font-size="6.6" text-anchor="end">0.5</text>
<line x1="488.2" y1="82.3" x2="490" y2="82.3" stroke="#333333" stroke-width="0.8"/>
<text x="487.4" y="85.28" font-size="6.6" text-anchor="end">0</text>
<rect x="493" y="40" width="5" height="42.3" fill="#a09fa4"/>
<rect x="512" y="42.6" width="4.6" height="39.7" fill="#a09fa4"/>
<rect x="531" y="45" width="4.6" height="37.3" fill="#a09fa4"/>
<rect x="550" y="49" width="4.6" height="33.3" fill="#a09fa4"/>
<rect x="500.6" y="56.4" width="4.8" height="25.9" fill="#4f9ef7"/>
<rect x="519" y="61" width="5" height="21.3" fill="#4f9ef7"/>
<rect x="538" y="66.6" width="4.6" height="15.7" fill="#4f9ef7"/>
<rect x="556.6" y="70" width="4.8" height="12.3" fill="#4f9ef7"/>
<line x1="495.5" y1="40" x2="495.5" y2="38.6" stroke="#333333" stroke-width="0.6"/>
<line x1="494.3" y1="38.6" x2="496.7" y2="38.6" stroke="#333333" stroke-width="0.6"/>
<line x1="514.3" y1="42.6" x2="514.3" y2="41.2" stroke="#333333" stroke-width="0.6"/>
<line x1="513.1" y1="41.2" x2="515.5" y2="41.2" stroke="#333333" stroke-width="0.6"/>
<line x1="533.3" y1="45" x2="533.3" y2="43.6" stroke="#333333" stroke-width="0.6"/>
<line x1="532.1" y1="43.6" x2="534.5" y2="43.6" stroke="#333333" stroke-width="0.6"/>
<line x1="552.3" y1="49" x2="552.3" y2="47.6" stroke="#333333" stroke-width="0.6"/>
<line x1="551.1" y1="47.6" x2="553.5" y2="47.6" stroke="#333333" stroke-width="0.6"/>
<line x1="503" y1="56.4" x2="503" y2="55" stroke="#333333" stroke-width="0.6"/>
<line x1="501.8" y1="55" x2="504.2" y2="55" stroke="#333333" stroke-width="0.6"/>
<line x1="521.5" y1="61" x2="521.5" y2="59.6" stroke="#333333" stroke-width="0.6"/>
<line x1="520.3" y1="59.6" x2="522.7" y2="59.6" stroke="#333333" stroke-width="0.6"/>
<line x1="540.3" y1="66.6" x2="540.3" y2="65.2" stroke="#333333" stroke-width="0.6"/>
<line x1="539.1" y1="65.2" x2="541.5" y2="65.2" stroke="#333333" stroke-width="0.6"/>
<line x1="559" y1="70" x2="559" y2="68.6" stroke="#333333" stroke-width="0.6"/>
<line x1="557.8" y1="68.6" x2="560.2" y2="68.6" stroke="#333333" stroke-width="0.6"/>
<line x1="495.5" y1="40" x2="495.5" y2="37" stroke="#333333" stroke-width="0.6"/>
<line x1="494.3" y1="37" x2="496.7" y2="37" stroke="#333333" stroke-width="0.6"/>
<line x1="521.5" y1="61" x2="521.5" y2="59" stroke="#333333" stroke-width="0.6"/>
<line x1="520.3" y1="59" x2="522.7" y2="59" stroke="#333333" stroke-width="0.6"/>
<line x1="533.3" y1="45" x2="533.3" y2="42" stroke="#333333" stroke-width="0.6"/>
<line x1="532.1" y1="42" x2="534.5" y2="42" stroke="#333333" stroke-width="0.6"/>
<line x1="540.3" y1="66.6" x2="540.3" y2="65" stroke="#333333" stroke-width="0.6"/>
<line x1="539.1" y1="65" x2="541.5" y2="65" stroke="#333333" stroke-width="0.6"/>
<line x1="490" y1="82.3" x2="563" y2="82.3" stroke="#333333" stroke-width="0.8"/>
<line x1="499.3" y1="82.3" x2="499.3" y2="84.1" stroke="#333333" stroke-width="0.8"/>
<line x1="517.8" y1="82.3" x2="517.8" y2="84.1" stroke="#333333" stroke-width="0.8"/>
<line x1="536.8" y1="82.3" x2="536.8" y2="84.1" stroke="#333333" stroke-width="0.8"/>
<line x1="555.6" y1="82.3" x2="555.6" y2="84.1" stroke="#333333" stroke-width="0.8"/>
<text x="503" y="55.74" font-size="5.9" text-anchor="middle" font-weight="bold">**</text>
<text x="521.5" y="58.74" font-size="5.9" text-anchor="middle" font-weight="bold">***</text>
<text x="540.3" y="65.14" font-size="5.9" text-anchor="middle" font-weight="bold">***</text>
<text x="559" y="69.55" font-size="5.9" text-anchor="middle" font-weight="bold">***</text>
<rect x="546" y="16.9" width="7.4" height="4.1" fill="#a09fa4"/>
<text x="556.4" y="21.35" font-size="5.9">Scr</text>
<rect x="546" y="24.9" width="7.4" height="4.1" fill="#4f9ef7"/>
<text x="556.4" y="29.35" font-size="5.9">shHULC</text>
<text x="502.6" y="88.6" font-size="6.1" text-anchor="end" transform="rotate(-45 502.6 88.6)">0</text>
<text x="521.1" y="88.6" font-size="6.1" text-anchor="end" transform="rotate(-45 521.1 88.6)">0.125</text>
<text x="540.1" y="88.6" font-size="6.1" text-anchor="end" transform="rotate(-45 540.1 88.6)">0.25</text>
<text x="558.9" y="88.6" font-size="6.1" text-anchor="end" transform="rotate(-45 558.9 88.6)">0.5</text>
<text x="562" y="91" font-size="6.6">(μM)</text>
<text x="525.6" y="107.7" font-size="6.6" text-anchor="middle">Conc. of oligomycin</text>
<text x="472.6" y="50" font-size="6.6" text-anchor="middle" transform="rotate(-90 472.6 50)">Relative OD450 value</text>
<line x1="615.6" y1="26" x2="615.6" y2="82" stroke="#333333" stroke-width="0.8"/>
<line x1="613.8" y1="26" x2="615.6" y2="26" stroke="#333333" stroke-width="0.8"/>
<text x="613" y="28.98" font-size="6.6" text-anchor="end">80</text>
<line x1="613.8" y1="40" x2="615.6" y2="40" stroke="#333333" stroke-width="0.8"/>
<text x="613" y="42.98" font-size="6.6" text-anchor="end">60</text>
<line x1="613.8" y1="54" x2="615.6" y2="54" stroke="#333333" stroke-width="0.8"/>
<text x="613" y="56.98" font-size="6.6" text-anchor="end">40</text>
<line x1="613.8" y1="68" x2="615.6" y2="68" stroke="#333333" stroke-width="0.8"/>
<text x="613" y="70.98" font-size="6.6" text-anchor="end">20</text>
<line x1="613.8" y1="82" x2="615.6" y2="82" stroke="#333333" stroke-width="0.8"/>
<text x="613" y="84.98" font-size="6.6" text-anchor="end">0</text>
<rect x="620" y="54.4" width="8.8" height="27.6" fill="#d5d5d5"/>
<rect x="634" y="49" width="9" height="33" fill="#d5d5d5"/>
<rect x="647.8" y="41" width="8.9" height="41" fill="#d5d5d5"/>
<rect x="661.3" y="37" width="8.9" height="45" fill="#d5d5d5"/>
<line x1="638.5" y1="53" x2="638.5" y2="44" stroke="#333333" stroke-width="0.55"/>
<line x1="637.6" y1="44" x2="639.4" y2="44" stroke="#333333" stroke-width="0.55"/>
<line x1="637.6" y1="53" x2="639.4" y2="53" stroke="#333333" stroke-width="0.55"/>
<line x1="652.2" y1="45" x2="652.2" y2="37" stroke="#333333" stroke-width="0.55"/>
<line x1="651.3" y1="37" x2="653.1" y2="37" stroke="#333333" stroke-width="0.55"/>
<line x1="651.3" y1="45" x2="653.1" y2="45" stroke="#333333" stroke-width="0.55"/>
<circle cx="621.6" cy="54.6" r="0.75" fill="#1a1a1a" stroke="none" stroke-width="0.5"/>
<circle cx="623.4" cy="54.4" r="0.75" fill="#1a1a1a" stroke="none" stroke-width="0.5"/>
<circle cx="625.2" cy="54.6" r="0.75" fill="#1a1a1a" stroke="none" stroke-width="0.5"/>
<circle cx="627" cy="54.2" r="0.75" fill="#1a1a1a" stroke="none" stroke-width="0.5"/>
<circle cx="636.8" cy="48" r="0.75" fill="#1a1a1a" stroke="none" stroke-width="0.5"/>
<circle cx="638.6" cy="46.6" r="0.75" fill="#1a1a1a" stroke="none" stroke-width="0.5"/>
<circle cx="637.4" cy="51.6" r="0.75" fill="#1a1a1a" stroke="none" stroke-width="0.5"/>
<circle cx="639.4" cy="50.6" r="0.75" fill="#1a1a1a" stroke="none" stroke-width="0.5"/>
<circle cx="651" cy="41.4" r="0.75" fill="#1a1a1a" stroke="none" stroke-width="0.5"/>
<circle cx="652.6" cy="40.6" r="0.75" fill="#1a1a1a" stroke="none" stroke-width="0.5"/>
<circle cx="651.4" cy="43.4" r="0.75" fill="#1a1a1a" stroke="none" stroke-width="0.5"/>
<circle cx="650.8" cy="38.6" r="0.75" fill="#1a1a1a" stroke="none" stroke-width="0.5"/>
<circle cx="663.6" cy="37.4" r="0.75" fill="#1a1a1a" stroke="none" stroke-width="0.5"/>
<circle cx="665.6" cy="37.2" r="0.75" fill="#1a1a1a" stroke="none" stroke-width="0.5"/>
<circle cx="667.6" cy="37" r="0.75" fill="#1a1a1a" stroke="none" stroke-width="0.5"/>
<circle cx="662.6" cy="37.6" r="0.75" fill="#1a1a1a" stroke="none" stroke-width="0.5"/>
<line x1="615.6" y1="82" x2="675" y2="82" stroke="#333333" stroke-width="0.8"/>
<line x1="624.4" y1="82" x2="624.4" y2="83.8" stroke="#333333" stroke-width="0.8"/>
<line x1="638.5" y1="82" x2="638.5" y2="83.8" stroke="#333333" stroke-width="0.8"/>
<line x1="652.2" y1="82" x2="652.2" y2="83.8" stroke="#333333" stroke-width="0.8"/>
<line x1="665.8" y1="82" x2="665.8" y2="83.8" stroke="#333333" stroke-width="0.8"/>
<text x="652.2" y="37.94" font-size="5.9" text-anchor="middle" font-weight="bold">**</text>
<text x="665.8" y="35.34" font-size="5.9" text-anchor="middle" font-weight="bold">***</text>
<text x="638" y="42.4" font-size="6.6" text-anchor="middle">n.s.</text>
<text x="627.7" y="88.6" font-size="6.1" text-anchor="end" transform="rotate(-45 627.7 88.6)">0</text>
<text x="641.8" y="88.6" font-size="6.1" text-anchor="end" transform="rotate(-45 641.8 88.6)">0.125</text>
<text x="655.5" y="88.6" font-size="6.1" text-anchor="end" transform="rotate(-45 655.5 88.6)">0.25</text>
<text x="669.1" y="88.6" font-size="6.1" text-anchor="end" transform="rotate(-45 669.1 88.6)">0.5</text>
<text x="672.2" y="91" font-size="6.6">(μM)</text>
<text x="644.4" y="108" font-size="6.6" text-anchor="middle">Conc. of oligomycin</text>
<text x="591.4" y="53" font-size="6.6" text-anchor="middle" transform="rotate(-90 591.4 53)">Decrease of cell</text>
<text x="599.6" y="53" font-size="6.6" text-anchor="middle" transform="rotate(-90 599.6 53)">proliferation (%)</text>
<text x="466.6" y="135" font-size="14" font-weight="bold">f</text>
<line x1="490" y1="139" x2="490" y2="202.6" stroke="#333333" stroke-width="0.8"/>
<line x1="488.2" y1="139" x2="490" y2="139" stroke="#333333" stroke-width="0.8"/>
<text x="487.4" y="141.98" font-size="6.6" text-anchor="end">2.0</text>
<line x1="488.2" y1="154.9" x2="490" y2="154.9" stroke="#333333" stroke-width="0.8"/>
<text x="487.4" y="157.88" font-size="6.6" text-anchor="end">1.5</text>
<line x1="488.2" y1="170.8" x2="490" y2="170.8" stroke="#333333" stroke-width="0.8"/>
<text x="487.4" y="173.78" font-size="6.6" text-anchor="end">1.0</text>
<line x1="488.2" y1="186.7" x2="490" y2="186.7" stroke="#333333" stroke-width="0.8"/>
<text x="487.4" y="189.68" font-size="6.6" text-anchor="end">0.5</text>
<line x1="488.2" y1="202.6" x2="490" y2="202.6" stroke="#333333" stroke-width="0.8"/>
<text x="487.4" y="205.58" font-size="6.6" text-anchor="end">0</text>
<rect x="493" y="170" width="5" height="32.6" fill="#a09fa4"/>
<rect x="512" y="176" width="5" height="26.6" fill="#a09fa4"/>
<rect x="531" y="179.4" width="5" height="23.2" fill="#a09fa4"/>
<rect x="550" y="184" width="5" height="18.6" fill="#a09fa4"/>
<rect x="500" y="158" width="5.6" height="44.6" fill="#f73b40"/>
<rect x="518.6" y="165.4" width="5.8" height="37.2" fill="#f73b40"/>
<rect x="537.6" y="168.6" width="5.8" height="34" fill="#f73b40"/>
<rect x="556.6" y="174" width="5.8" height="28.6" fill="#f73b40"/>
<line x1="495.5" y1="170" x2="495.5" y2="168.6" stroke="#333333" stroke-width="0.6"/>
<line x1="494.3" y1="168.6" x2="496.7" y2="168.6" stroke="#333333" stroke-width="0.6"/>
<line x1="514.5" y1="176" x2="514.5" y2="174.6" stroke="#333333" stroke-width="0.6"/>
<line x1="513.3" y1="174.6" x2="515.7" y2="174.6" stroke="#333333" stroke-width="0.6"/>
<line x1="533.5" y1="179.4" x2="533.5" y2="178" stroke="#333333" stroke-width="0.6"/>
<line x1="532.3" y1="178" x2="534.7" y2="178" stroke="#333333" stroke-width="0.6"/>
<line x1="552.5" y1="184" x2="552.5" y2="182.6" stroke="#333333" stroke-width="0.6"/>
<line x1="551.3" y1="182.6" x2="553.7" y2="182.6" stroke="#333333" stroke-width="0.6"/>
<line x1="502.8" y1="158" x2="502.8" y2="156.6" stroke="#333333" stroke-width="0.6"/>
<line x1="501.6" y1="156.6" x2="504" y2="156.6" stroke="#333333" stroke-width="0.6"/>
<line x1="521.5" y1="165.4" x2="521.5" y2="164" stroke="#333333" stroke-width="0.6"/>
<line x1="520.3" y1="164" x2="522.7" y2="164" stroke="#333333" stroke-width="0.6"/>
<line x1="540.5" y1="168.6" x2="540.5" y2="167.2" stroke="#333333" stroke-width="0.6"/>
<line x1="539.3" y1="167.2" x2="541.7" y2="167.2" stroke="#333333" stroke-width="0.6"/>
<line x1="559.5" y1="174" x2="559.5" y2="172.6" stroke="#333333" stroke-width="0.6"/>
<line x1="558.3" y1="172.6" x2="560.7" y2="172.6" stroke="#333333" stroke-width="0.6"/>
<line x1="502.8" y1="158" x2="502.8" y2="155.6" stroke="#333333" stroke-width="0.6"/>
<line x1="501.6" y1="155.6" x2="504" y2="155.6" stroke="#333333" stroke-width="0.6"/>
<line x1="490" y1="202.6" x2="564" y2="202.6" stroke="#333333" stroke-width="0.8"/>
<line x1="499" y1="202.6" x2="499" y2="204.4" stroke="#333333" stroke-width="0.8"/>
<line x1="517.8" y1="202.6" x2="517.8" y2="204.4" stroke="#333333" stroke-width="0.8"/>
<line x1="536.8" y1="202.6" x2="536.8" y2="204.4" stroke="#333333" stroke-width="0.8"/>
<line x1="555.8" y1="202.6" x2="555.8" y2="204.4" stroke="#333333" stroke-width="0.8"/>
<text x="502.8" y="155.55" font-size="5.9" text-anchor="middle" font-weight="bold">***</text>
<text x="521.5" y="163.15" font-size="5.9" text-anchor="middle" font-weight="bold">***</text>
<text x="540.5" y="167.15" font-size="5.9" text-anchor="middle" font-weight="bold">***</text>
<text x="559.5" y="173.55" font-size="5.9" text-anchor="middle" font-weight="bold">***</text>
<rect x="548.6" y="136.2" width="7.8" height="4.2" fill="#a09fa4"/>
<text x="559.4" y="140.7" font-size="5.9">Vector</text>
<rect x="548.6" y="143.8" width="7.8" height="4.2" fill="#f73b40"/>
<text x="559.4" y="148.3" font-size="5.9">HULC</text>
<text x="502.3" y="209.6" font-size="6.1" text-anchor="end" transform="rotate(-45 502.3 209.6)">0</text>
<text x="521.1" y="209.6" font-size="6.1" text-anchor="end" transform="rotate(-45 521.1 209.6)">0.125</text>
<text x="540.1" y="209.6" font-size="6.1" text-anchor="end" transform="rotate(-45 540.1 209.6)">0.25</text>
<text x="559.1" y="209.6" font-size="6.1" text-anchor="end" transform="rotate(-45 559.1 209.6)">0.5</text>
<text x="562" y="212.2" font-size="6.6">(μM)</text>
<text x="525" y="228" font-size="6.6" text-anchor="middle">Conc. of oligomycin</text>
<text x="472.6" y="170" font-size="6.6" text-anchor="middle" transform="rotate(-90 472.6 170)">Relative OD450 value</text>
<line x1="615.6" y1="147.4" x2="615.6" y2="202.8" stroke="#333333" stroke-width="0.8"/>
<line x1="613.8" y1="147.4" x2="615.6" y2="147.4" stroke="#333333" stroke-width="0.8"/>
<text x="613" y="150.38" font-size="6.6" text-anchor="end">80</text>
<line x1="613.8" y1="161.3" x2="615.6" y2="161.3" stroke="#333333" stroke-width="0.8"/>
<text x="613" y="164.28" font-size="6.6" text-anchor="end">60</text>
<line x1="613.8" y1="175.2" x2="615.6" y2="175.2" stroke="#333333" stroke-width="0.8"/>
<text x="613" y="178.18" font-size="6.6" text-anchor="end">40</text>
<line x1="613.8" y1="189" x2="615.6" y2="189" stroke="#333333" stroke-width="0.8"/>
<text x="613" y="191.98" font-size="6.6" text-anchor="end">20</text>
<line x1="613.8" y1="202.8" x2="615.6" y2="202.8" stroke="#333333" stroke-width="0.8"/>
<text x="613" y="205.78" font-size="6.6" text-anchor="end">0</text>
<rect x="619.6" y="176.6" width="9.4" height="26.2" fill="#d5d5d5"/>
<rect x="633" y="173" width="9" height="29.8" fill="#d5d5d5"/>
<rect x="646" y="169" width="9.4" height="33.8" fill="#d5d5d5"/>
<rect x="659" y="164.4" width="9" height="38.4" fill="#d5d5d5"/>
<line x1="624.3" y1="184" x2="624.3" y2="168.6" stroke="#333333" stroke-width="0.55"/>
<line x1="623.4" y1="168.6" x2="625.2" y2="168.6" stroke="#333333" stroke-width="0.55"/>
<line x1="623.4" y1="184" x2="625.2" y2="184" stroke="#333333" stroke-width="0.55"/>
<line x1="637.5" y1="177" x2="637.5" y2="168.6" stroke="#333333" stroke-width="0.55"/>
<line x1="636.6" y1="168.6" x2="638.4" y2="168.6" stroke="#333333" stroke-width="0.55"/>
<line x1="636.6" y1="177" x2="638.4" y2="177" stroke="#333333" stroke-width="0.55"/>
<line x1="650.7" y1="174" x2="650.7" y2="165" stroke="#333333" stroke-width="0.55"/>
<line x1="649.8" y1="165" x2="651.6" y2="165" stroke="#333333" stroke-width="0.55"/>
<line x1="649.8" y1="174" x2="651.6" y2="174" stroke="#333333" stroke-width="0.55"/>
<line x1="663.5" y1="167.6" x2="663.5" y2="160.6" stroke="#333333" stroke-width="0.55"/>
<line x1="662.6" y1="160.6" x2="664.4" y2="160.6" stroke="#333333" stroke-width="0.55"/>
<line x1="662.6" y1="167.6" x2="664.4" y2="167.6" stroke="#333333" stroke-width="0.55"/>
<circle cx="624.6" cy="171.6" r="0.75" fill="#1a1a1a" stroke="none" stroke-width="0.5"/>
<circle cx="623.4" cy="179" r="0.75" fill="#1a1a1a" stroke="none" stroke-width="0.5"/>
<circle cx="624.8" cy="183.4" r="0.75" fill="#1a1a1a" stroke="none" stroke-width="0.5"/>
<circle cx="636.4" cy="170.4" r="0.75" fill="#1a1a1a" stroke="none" stroke-width="0.5"/>
<circle cx="638.4" cy="170.6" r="0.75" fill="#1a1a1a" stroke="none" stroke-width="0.5"/>
<circle cx="637.6" cy="175.4" r="0.75" fill="#1a1a1a" stroke="none" stroke-width="0.5"/>
<circle cx="639" cy="176" r="0.75" fill="#1a1a1a" stroke="none" stroke-width="0.5"/>
<circle cx="650.2" cy="166.4" r="0.75" fill="#1a1a1a" stroke="none" stroke-width="0.5"/>
<circle cx="651.4" cy="170.6" r="0.75" fill="#1a1a1a" stroke="none" stroke-width="0.5"/>
<circle cx="650.6" cy="172.6" r="0.75" fill="#1a1a1a" stroke="none" stroke-width="0.5"/>
<circle cx="662.4" cy="163.4" r="0.75" fill="#1a1a1a" stroke="none" stroke-width="0.5"/>
<circle cx="664.2" cy="162.8" r="0.75" fill="#1a1a1a" stroke="none" stroke-width="0.5"/>
<circle cx="663.2" cy="166.4" r="0.75" fill="#1a1a1a" stroke="none" stroke-width="0.5"/>
<circle cx="664.6" cy="166.8" r="0.75" fill="#1a1a1a" stroke="none" stroke-width="0.5"/>
<line x1="615.6" y1="202.8" x2="672" y2="202.8" stroke="#333333" stroke-width="0.8"/>
<line x1="624.3" y1="202.8" x2="624.3" y2="204.6" stroke="#333333" stroke-width="0.8"/>
<line x1="637.5" y1="202.8" x2="637.5" y2="204.6" stroke="#333333" stroke-width="0.8"/>
<line x1="650.7" y1="202.8" x2="650.7" y2="204.6" stroke="#333333" stroke-width="0.8"/>
<line x1="663.5" y1="202.8" x2="663.5" y2="204.6" stroke="#333333" stroke-width="0.8"/>
<text x="650.7" y="166.15" font-size="5.9" text-anchor="middle" font-weight="bold">*</text>
<text x="663.5" y="160.15" font-size="5.9" text-anchor="middle" font-weight="bold">**</text>
<text x="638" y="163.4" font-size="6.6" text-anchor="middle">n.s.</text>
<text x="627.6" y="209.8" font-size="6.1" text-anchor="end" transform="rotate(-45 627.6 209.8)">0</text>
<text x="640.8" y="209.8" font-size="6.1" text-anchor="end" transform="rotate(-45 640.8 209.8)">0.125</text>
<text x="654" y="209.8" font-size="6.1" text-anchor="end" transform="rotate(-45 654 209.8)">0.25</text>
<text x="666.8" y="209.8" font-size="6.1" text-anchor="end" transform="rotate(-45 666.8 209.8)">0.5</text>
<text x="671.2" y="212.6" font-size="6.6">(μM)</text>
<text x="644.4" y="228.4" font-size="6.6" text-anchor="middle">Conc. of oligomycin</text>
<text x="591.4" y="175" font-size="6.6" text-anchor="middle" transform="rotate(-90 591.4 175)">Increase of cell</text>
<text x="599.6" y="175" font-size="6.6" text-anchor="middle" transform="rotate(-90 599.6 175)">proliferation (%)</text>
<text x="-0.4" y="262" font-size="14" font-weight="bold">g</text>
<line x1="35" y1="272.6" x2="35" y2="337.4" stroke="#b9b9b9" stroke-width="1"/>
<line x1="33" y1="272.6" x2="35" y2="272.6" stroke="#333333" stroke-width="0.8"/>
<text x="31.4" y="275" font-size="6.6" text-anchor="end">150</text>
<line x1="33" y1="294.2" x2="35" y2="294.2" stroke="#333333" stroke-width="0.8"/>
<text x="31.4" y="296.6" font-size="6.6" text-anchor="end">100</text>
<line x1="33" y1="315.9" x2="35" y2="315.9" stroke="#333333" stroke-width="0.8"/>
<text x="31.4" y="318.3" font-size="6.6" text-anchor="end">50</text>
<line x1="33" y1="337.4" x2="35" y2="337.4" stroke="#333333" stroke-width="0.8"/>
<text x="31.4" y="339.8" font-size="6.6" text-anchor="end">0</text>
<line x1="35" y1="337.4" x2="131" y2="337.4" stroke="#b9b9b9" stroke-width="1"/>
<line x1="35.6" y1="337.4" x2="35.6" y2="339.4" stroke="#333333" stroke-width="0.8"/>
<text x="35.2" y="346.4" font-size="6.6" text-anchor="middle">−2</text>
<line x1="54.5" y1="337.4" x2="54.5" y2="339.4" stroke="#333333" stroke-width="0.8"/>
<text x="54.1" y="346.4" font-size="6.6" text-anchor="middle">−1</text>
<line x1="73.4" y1="337.4" x2="73.4" y2="339.4" stroke="#333333" stroke-width="0.8"/>
<text x="73.4" y="346.4" font-size="6.6" text-anchor="middle">0</text>
<line x1="92.3" y1="337.4" x2="92.3" y2="339.4" stroke="#333333" stroke-width="0.8"/>
<text x="92.3" y="346.4" font-size="6.6" text-anchor="middle">1</text>
<line x1="111.2" y1="337.4" x2="111.2" y2="339.4" stroke="#333333" stroke-width="0.8"/>
<text x="111.2" y="346.4" font-size="6.6" text-anchor="middle">2</text>
<line x1="130.1" y1="337.4" x2="130.1" y2="339.4" stroke="#333333" stroke-width="0.8"/>
<text x="130.1" y="346.4" font-size="6.6" text-anchor="middle">3</text>
<text x="82" y="356" font-size="6.6" text-anchor="middle">log<tspan font-size="4.3" dy="1.2">10</tspan><tspan dy="-1.2"> [2-DG] (mM)</tspan></text>
<text x="16.4" y="309" font-size="6.6" text-anchor="middle" transform="rotate(-90 16.4 309)">% Viability</text>
<text x="61.8" y="275.8" font-size="5.3">IC50<tspan font-size="3.4" dy="0.4">Vector</tspan><tspan dy="-0.4"> = 28.25 mM</tspan></text>
<text x="61.8" y="282.6" font-size="5.3">IC50<tspan font-size="3.4" dy="0.4">HULC</tspan><tspan dy="-0.4"> = 8.81 mM</tspan></text>
<line x1="35" y1="316.1" x2="109.6" y2="316.1" stroke="#222" stroke-width="0.6" stroke-dasharray="1.8,1.1"/>
<line x1="90.4" y1="316" x2="90.4" y2="337.4" stroke="#333" stroke-width="0.6" stroke-dasharray="1.4,0.9"/>
<line x1="101.8" y1="316" x2="101.8" y2="337.4" stroke="#999" stroke-width="0.5" stroke-dasharray="1.2,0.9"/>
<path d="M49.9 298.2C51.85 298.8 57.77 300.45 61.6 301.8C65.43 303.15 69.08 304.6 72.9 306.3C76.72 308 80.65 310.08 84.5 312C88.35 313.92 92.2 315.97 96 317.8C99.8 319.63 103.52 321.23 107.3 323C111.08 324.77 115.88 326.97 118.7 328.4C121.52 329.83 123.28 331.07 124.2 331.6" stroke="#f02020" stroke-width="0.9" fill="none"/>
<path d="M49.9 295.6C51.85 295.87 57.77 296.42 61.6 297.2C65.43 297.98 69.08 298.9 72.9 300.3C76.72 301.7 80.65 303.58 84.5 305.6C88.35 307.62 92.2 310.12 96 312.4C99.8 314.68 103.52 317.02 107.3 319.3C111.08 321.58 115.97 324.35 118.7 326.1C121.43 327.85 122.87 329.18 123.7 329.8" stroke="#2323d8" stroke-width="0.9" fill="none"/>
<line x1="49.9" y1="301.6" x2="49.9" y2="290.6" stroke="#2323d8" stroke-width="0.5"/>
<line x1="49.2" y1="290.6" x2="50.6" y2="290.6" stroke="#2323d8" stroke-width="0.5"/>
<line x1="49.2" y1="301.6" x2="50.6" y2="301.6" stroke="#2323d8" stroke-width="0.5"/>
<circle cx="49.9" cy="296.1" r="0.9" fill="#2323d8" stroke="none" stroke-width="0.5"/>
<line x1="55.6" y1="298.9" x2="55.6" y2="293.9" stroke="#2323d8" stroke-width="0.5"/>
<line x1="54.9" y1="293.9" x2="56.3" y2="293.9" stroke="#2323d8" stroke-width="0.5"/>
<line x1="54.9" y1="298.9" x2="56.3" y2="298.9" stroke="#2323d8" stroke-width="0.5"/>
<circle cx="55.6" cy="296.4" r="0.9" fill="#2323d8" stroke="none" stroke-width="0.5"/>
<line x1="61.6" y1="301.9" x2="61.6" y2="292.9" stroke="#2323d8" stroke-width="0.5"/>
<line x1="60.9" y1="292.9" x2="62.3" y2="292.9" stroke="#2323d8" stroke-width="0.5"/>
<line x1="60.9" y1="301.9" x2="62.3" y2="301.9" stroke="#2323d8" stroke-width="0.5"/>
<circle cx="61.6" cy="297.4" r="0.9" fill="#2323d8" stroke="none" stroke-width="0.5"/>
<line x1="67.2" y1="302.9" x2="67.2" y2="293.9" stroke="#2323d8" stroke-width="0.5"/>
<line x1="66.5" y1="293.9" x2="67.9" y2="293.9" stroke="#2323d8" stroke-width="0.5"/>
<line x1="66.5" y1="302.9" x2="67.9" y2="302.9" stroke="#2323d8" stroke-width="0.5"/>
<circle cx="67.2" cy="298.4" r="0.9" fill="#2323d8" stroke="none" stroke-width="0.5"/>
<line x1="72.9" y1="302.9" x2="72.9" y2="297.9" stroke="#2323d8" stroke-width="0.5"/>
<line x1="72.2" y1="297.9" x2="73.6" y2="297.9" stroke="#2323d8" stroke-width="0.5"/>
<line x1="72.2" y1="302.9" x2="73.6" y2="302.9" stroke="#2323d8" stroke-width="0.5"/>
<circle cx="72.9" cy="300.4" r="0.9" fill="#2323d8" stroke="none" stroke-width="0.5"/>
<line x1="78.7" y1="305.9" x2="78.7" y2="299.9" stroke="#2323d8" stroke-width="0.5"/>
<line x1="78" y1="299.9" x2="79.4" y2="299.9" stroke="#2323d8" stroke-width="0.5"/>
<line x1="78" y1="305.9" x2="79.4" y2="305.9" stroke="#2323d8" stroke-width="0.5"/>
<circle cx="78.7" cy="302.9" r="0.9" fill="#2323d8" stroke="none" stroke-width="0.5"/>
<line x1="84.5" y1="309.2" x2="84.5" y2="304.2" stroke="#2323d8" stroke-width="0.5"/>
<line x1="83.8" y1="304.2" x2="85.2" y2="304.2" stroke="#2323d8" stroke-width="0.5"/>
<line x1="83.8" y1="309.2" x2="85.2" y2="309.2" stroke="#2323d8" stroke-width="0.5"/>
<circle cx="84.5" cy="306.7" r="0.9" fill="#2323d8" stroke="none" stroke-width="0.5"/>
<line x1="90.1" y1="311" x2="90.1" y2="306.6" stroke="#2323d8" stroke-width="0.5"/>
<line x1="89.4" y1="306.6" x2="90.8" y2="306.6" stroke="#2323d8" stroke-width="0.5"/>
<line x1="89.4" y1="311" x2="90.8" y2="311" stroke="#2323d8" stroke-width="0.5"/>
<circle cx="90.1" cy="308.8" r="0.9" fill="#2323d8" stroke="none" stroke-width="0.5"/>
<line x1="95.9" y1="314.6" x2="95.9" y2="310.2" stroke="#2323d8" stroke-width="0.5"/>
<line x1="95.2" y1="310.2" x2="96.6" y2="310.2" stroke="#2323d8" stroke-width="0.5"/>
<line x1="95.2" y1="314.6" x2="96.6" y2="314.6" stroke="#2323d8" stroke-width="0.5"/>
<circle cx="95.9" cy="312.4" r="0.9" fill="#2323d8" stroke="none" stroke-width="0.5"/>
<line x1="101.6" y1="318.2" x2="101.6" y2="314.2" stroke="#2323d8" stroke-width="0.5"/>
<line x1="100.9" y1="314.2" x2="102.3" y2="314.2" stroke="#2323d8" stroke-width="0.5"/>
<line x1="100.9" y1="318.2" x2="102.3" y2="318.2" stroke="#2323d8" stroke-width="0.5"/>
<circle cx="101.6" cy="316.2" r="0.9" fill="#2323d8" stroke="none" stroke-width="0.5"/>
<line x1="107.3" y1="321.9" x2="107.3" y2="316.9" stroke="#2323d8" stroke-width="0.5"/>
<line x1="106.6" y1="316.9" x2="108" y2="316.9" stroke="#2323d8" stroke-width="0.5"/>
<line x1="106.6" y1="321.9" x2="108" y2="321.9" stroke="#2323d8" stroke-width="0.5"/>
<circle cx="107.3" cy="319.4" r="0.9" fill="#2323d8" stroke="none" stroke-width="0.5"/>
<line x1="113.1" y1="324.5" x2="113.1" y2="320.1" stroke="#2323d8" stroke-width="0.5"/>
<line x1="112.4" y1="320.1" x2="113.8" y2="320.1" stroke="#2323d8" stroke-width="0.5"/>
<line x1="112.4" y1="324.5" x2="113.8" y2="324.5" stroke="#2323d8" stroke-width="0.5"/>
<circle cx="113.1" cy="322.3" r="0.9" fill="#2323d8" stroke="none" stroke-width="0.5"/>
<line x1="118.7" y1="328.6" x2="118.7" y2="324.6" stroke="#2323d8" stroke-width="0.5"/>
<line x1="118" y1="324.6" x2="119.4" y2="324.6" stroke="#2323d8" stroke-width="0.5"/>
<line x1="118" y1="328.6" x2="119.4" y2="328.6" stroke="#2323d8" stroke-width="0.5"/>
<circle cx="118.7" cy="326.6" r="0.9" fill="#2323d8" stroke="none" stroke-width="0.5"/>
<line x1="124.5" y1="334.6" x2="124.5" y2="333" stroke="#2323d8" stroke-width="0.5"/>
<line x1="123.8" y1="333" x2="125.2" y2="333" stroke="#2323d8" stroke-width="0.5"/>
<line x1="123.8" y1="334.6" x2="125.2" y2="334.6" stroke="#2323d8" stroke-width="0.5"/>
<circle cx="124.5" cy="333.8" r="0.9" fill="#2323d8" stroke="none" stroke-width="0.5"/>
<line x1="49.9" y1="301.4" x2="49.9" y2="294.4" stroke="#f02020" stroke-width="0.5"/>
<line x1="49.2" y1="294.4" x2="50.6" y2="294.4" stroke="#f02020" stroke-width="0.5"/>
<line x1="49.2" y1="301.4" x2="50.6" y2="301.4" stroke="#f02020" stroke-width="0.5"/>
<circle cx="49.9" cy="297.9" r="0.9" fill="#f02020" stroke="none" stroke-width="0.5"/>
<line x1="55.6" y1="302.4" x2="55.6" y2="298.4" stroke="#f02020" stroke-width="0.5"/>
<line x1="54.9" y1="298.4" x2="56.3" y2="298.4" stroke="#f02020" stroke-width="0.5"/>
<line x1="54.9" y1="302.4" x2="56.3" y2="302.4" stroke="#f02020" stroke-width="0.5"/>
<circle cx="55.6" cy="300.4" r="0.9" fill="#f02020" stroke="none" stroke-width="0.5"/>
<line x1="61.6" y1="304.4" x2="61.6" y2="299.4" stroke="#f02020" stroke-width="0.5"/>
<line x1="60.9" y1="299.4" x2="62.3" y2="299.4" stroke="#f02020" stroke-width="0.5"/>
<line x1="60.9" y1="304.4" x2="62.3" y2="304.4" stroke="#f02020" stroke-width="0.5"/>
<circle cx="61.6" cy="301.9" r="0.9" fill="#f02020" stroke="none" stroke-width="0.5"/>
<line x1="67.2" y1="305.9" x2="67.2" y2="301.5" stroke="#f02020" stroke-width="0.5"/>
<line x1="66.5" y1="301.5" x2="67.9" y2="301.5" stroke="#f02020" stroke-width="0.5"/>
<line x1="66.5" y1="305.9" x2="67.9" y2="305.9" stroke="#f02020" stroke-width="0.5"/>
<circle cx="67.2" cy="303.7" r="0.9" fill="#f02020" stroke="none" stroke-width="0.5"/>
<line x1="72.9" y1="307.9" x2="72.9" y2="304.9" stroke="#f02020" stroke-width="0.5"/>
<line x1="72.2" y1="304.9" x2="73.6" y2="304.9" stroke="#f02020" stroke-width="0.5"/>
<line x1="72.2" y1="307.9" x2="73.6" y2="307.9" stroke="#f02020" stroke-width="0.5"/>
<circle cx="72.9" cy="306.4" r="0.9" fill="#f02020" stroke="none" stroke-width="0.5"/>
<line x1="78.7" y1="311.3" x2="78.7" y2="307.3" stroke="#f02020" stroke-width="0.5"/>
<line x1="78" y1="307.3" x2="79.4" y2="307.3" stroke="#f02020" stroke-width="0.5"/>
<line x1="78" y1="311.3" x2="79.4" y2="311.3" stroke="#f02020" stroke-width="0.5"/>
<circle cx="78.7" cy="309.3" r="0.9" fill="#f02020" stroke="none" stroke-width="0.5"/>
<line x1="84.5" y1="313.9" x2="84.5" y2="310.9" stroke="#f02020" stroke-width="0.5"/>
<line x1="83.8" y1="310.9" x2="85.2" y2="310.9" stroke="#f02020" stroke-width="0.5"/>
<line x1="83.8" y1="313.9" x2="85.2" y2="313.9" stroke="#f02020" stroke-width="0.5"/>
<circle cx="84.5" cy="312.4" r="0.9" fill="#f02020" stroke="none" stroke-width="0.5"/>
<line x1="90.1" y1="317.1" x2="90.1" y2="314.7" stroke="#f02020" stroke-width="0.5"/>
<line x1="89.4" y1="314.7" x2="90.8" y2="314.7" stroke="#f02020" stroke-width="0.5"/>
<line x1="89.4" y1="317.1" x2="90.8" y2="317.1" stroke="#f02020" stroke-width="0.5"/>
<circle cx="90.1" cy="315.9" r="0.9" fill="#f02020" stroke="none" stroke-width="0.5"/>
<line x1="95.9" y1="320.4" x2="95.9" y2="317.4" stroke="#f02020" stroke-width="0.5"/>
<line x1="95.2" y1="317.4" x2="96.6" y2="317.4" stroke="#f02020" stroke-width="0.5"/>
<line x1="95.2" y1="320.4" x2="96.6" y2="320.4" stroke="#f02020" stroke-width="0.5"/>
<circle cx="95.9" cy="318.9" r="0.9" fill="#f02020" stroke="none" stroke-width="0.5"/>
<line x1="101.6" y1="324.8" x2="101.6" y2="319.8" stroke="#f02020" stroke-width="0.5"/>
<line x1="100.9" y1="319.8" x2="102.3" y2="319.8" stroke="#f02020" stroke-width="0.5"/>
<line x1="100.9" y1="324.8" x2="102.3" y2="324.8" stroke="#f02020" stroke-width="0.5"/>
<circle cx="101.6" cy="322.3" r="0.9" fill="#f02020" stroke="none" stroke-width="0.5"/>
<line x1="107.3" y1="325.3" x2="107.3" y2="321.3" stroke="#f02020" stroke-width="0.5"/>
<line x1="106.6" y1="321.3" x2="108" y2="321.3" stroke="#f02020" stroke-width="0.5"/>
<line x1="106.6" y1="325.3" x2="108" y2="325.3" stroke="#f02020" stroke-width="0.5"/>
<circle cx="107.3" cy="323.3" r="0.9" fill="#f02020" stroke="none" stroke-width="0.5"/>
<line x1="113.1" y1="328.6" x2="113.1" y2="324.6" stroke="#f02020" stroke-width="0.5"/>
<line x1="112.4" y1="324.6" x2="113.8" y2="324.6" stroke="#f02020" stroke-width="0.5"/>
<line x1="112.4" y1="328.6" x2="113.8" y2="328.6" stroke="#f02020" stroke-width="0.5"/>
<circle cx="113.1" cy="326.6" r="0.9" fill="#f02020" stroke="none" stroke-width="0.5"/>
<line x1="118.7" y1="331.8" x2="118.7" y2="328.8" stroke="#f02020" stroke-width="0.5"/>
<line x1="118" y1="328.8" x2="119.4" y2="328.8" stroke="#f02020" stroke-width="0.5"/>
<line x1="118" y1="331.8" x2="119.4" y2="331.8" stroke="#f02020" stroke-width="0.5"/>
<circle cx="118.7" cy="330.3" r="0.9" fill="#f02020" stroke="none" stroke-width="0.5"/>
<line x1="124.5" y1="335.1" x2="124.5" y2="333.5" stroke="#f02020" stroke-width="0.5"/>
<line x1="123.8" y1="333.5" x2="125.2" y2="333.5" stroke="#f02020" stroke-width="0.5"/>
<line x1="123.8" y1="335.1" x2="125.2" y2="335.1" stroke="#f02020" stroke-width="0.5"/>
<circle cx="124.5" cy="334.3" r="0.9" fill="#f02020" stroke="none" stroke-width="0.5"/>
<line x1="122" y1="282.6" x2="129" y2="282.6" stroke="#2323d8" stroke-width="0.8"/>
<circle cx="125.5" cy="282.6" r="0.9" fill="#2323d8" stroke="none" stroke-width="0.5"/>
<text x="130.6" y="284.8" font-size="5.9">Vector</text>
<line x1="122" y1="291.4" x2="129" y2="291.4" stroke="#f02020" stroke-width="0.8"/>
<circle cx="125.5" cy="291.4" r="0.9" fill="#f02020" stroke="none" stroke-width="0.5"/>
<text x="130.6" y="293.6" font-size="5.9">HULC</text>
<line x1="176" y1="278.4" x2="176" y2="337" stroke="#333333" stroke-width="0.8"/>
<line x1="174.2" y1="278.4" x2="176" y2="278.4" stroke="#333333" stroke-width="0.8"/>
<text x="173.2" y="281.38" font-size="6.6" text-anchor="end">40</text>
<line x1="174.2" y1="293.1" x2="176" y2="293.1" stroke="#333333" stroke-width="0.8"/>
<text x="173.2" y="296.08" font-size="6.6" text-anchor="end">30</text>
<line x1="174.2" y1="307.7" x2="176" y2="307.7" stroke="#333333" stroke-width="0.8"/>
<text x="173.2" y="310.68" font-size="6.6" text-anchor="end">20</text>
<line x1="174.2" y1="322.4" x2="176" y2="322.4" stroke="#333333" stroke-width="0.8"/>
<text x="173.2" y="325.38" font-size="6.6" text-anchor="end">10</text>
<line x1="174.2" y1="337" x2="176" y2="337" stroke="#333333" stroke-width="0.8"/>
<text x="173.2" y="339.98" font-size="6.6" text-anchor="end">0</text>
<rect x="183" y="296.1" width="15.2" height="40.9" fill="#d5d5d5"/>
<rect x="203.7" y="323.8" width="14.9" height="13.2" fill="#f9a1a1"/>
<line x1="176" y1="337" x2="225" y2="337" stroke="#333333" stroke-width="0.8"/>
<line x1="190.3" y1="337" x2="190.3" y2="338.8" stroke="#333333" stroke-width="0.8"/>
<line x1="211.3" y1="337" x2="211.3" y2="338.8" stroke="#333333" stroke-width="0.8"/>
<line x1="190.5" y1="304.3" x2="190.5" y2="288.5" stroke="#333333" stroke-width="0.75"/>
<line x1="187.5" y1="288.5" x2="193.5" y2="288.5" stroke="#333333" stroke-width="0.75"/>
<line x1="187.5" y1="304.3" x2="193.5" y2="304.3" stroke="#333333" stroke-width="0.75"/>
<line x1="211.2" y1="330.1" x2="211.2" y2="319" stroke="#333333" stroke-width="0.75"/>
<line x1="208.45" y1="319" x2="213.95" y2="319" stroke="#333333" stroke-width="0.75"/>
<line x1="208.45" y1="330.1" x2="213.95" y2="330.1" stroke="#333333" stroke-width="0.75"/>
<circle cx="190.3" cy="290.8" r="0.75" fill="#111" stroke="none" stroke-width="0.5"/>
<circle cx="190.3" cy="298.6" r="0.75" fill="#111" stroke="none" stroke-width="0.5"/>
<circle cx="189.8" cy="307.4" r="0.75" fill="#111" stroke="none" stroke-width="0.5"/>
<circle cx="211.6" cy="319.4" r="0.75" fill="#111" stroke="none" stroke-width="0.5"/>
<circle cx="210.8" cy="322.2" r="0.75" fill="#111" stroke="none" stroke-width="0.5"/>
<circle cx="211.6" cy="325.2" r="0.75" fill="#111" stroke="none" stroke-width="0.5"/>
<circle cx="211" cy="328.2" r="0.75" fill="#111" stroke="none" stroke-width="0.5"/>
<circle cx="211.6" cy="330.2" r="0.75" fill="#111" stroke="none" stroke-width="0.5"/>
<line x1="192" y1="279.4" x2="211" y2="279.4" stroke="#777" stroke-width="0.6"/>
<text x="201.8" y="278.4" font-size="7.6" text-anchor="middle" font-weight="bold">**</text>
<text x="190.3" y="347.2" font-size="6.6" text-anchor="middle">Vector</text>
<text x="211.3" y="347.2" font-size="6.6" text-anchor="middle">HULC</text>
<text x="160.4" y="306" font-size="6.6" text-anchor="middle" transform="rotate(-90 160.4 306)">IC50 value (mM)</text>
<text x="-0.2" y="381" font-size="14" font-weight="bold">h</text>
<line x1="36.3" y1="390.4" x2="36.3" y2="454" stroke="#333333" stroke-width="0.8"/>
<line x1="34.5" y1="390.4" x2="36.3" y2="390.4" stroke="#333333" stroke-width="0.8"/>
<text x="32.2" y="393.38" font-size="6.6" text-anchor="end">150</text>
<line x1="34.5" y1="411.6" x2="36.3" y2="411.6" stroke="#333333" stroke-width="0.8"/>
<text x="32.2" y="414.58" font-size="6.6" text-anchor="end">100</text>
<line x1="34.5" y1="432.8" x2="36.3" y2="432.8" stroke="#333333" stroke-width="0.8"/>
<text x="32.2" y="435.78" font-size="6.6" text-anchor="end">50</text>
<line x1="34.5" y1="454" x2="36.3" y2="454" stroke="#333333" stroke-width="0.8"/>
<text x="32.2" y="456.98" font-size="6.6" text-anchor="end">0</text>
<line x1="36.3" y1="454" x2="131.5" y2="454" stroke="#333333" stroke-width="0.8"/>
<line x1="36.3" y1="454" x2="36.3" y2="455.8" stroke="#333333" stroke-width="0.8"/>
<text x="36.1" y="463.3" font-size="6.6" text-anchor="middle">−1.5</text>
<line x1="52.1" y1="454" x2="52.1" y2="455.8" stroke="#333333" stroke-width="0.8"/>
<text x="51.9" y="463.3" font-size="6.6" text-anchor="middle">−1.0</text>
<line x1="67.9" y1="454" x2="67.9" y2="455.8" stroke="#333333" stroke-width="0.8"/>
<text x="67.7" y="463.3" font-size="6.6" text-anchor="middle">−0.5</text>
<line x1="83.7" y1="454" x2="83.7" y2="455.8" stroke="#333333" stroke-width="0.8"/>
<text x="83.7" y="463.3" font-size="6.6" text-anchor="middle">0.0</text>
<line x1="99.5" y1="454" x2="99.5" y2="455.8" stroke="#333333" stroke-width="0.8"/>
<text x="99.5" y="463.3" font-size="6.6" text-anchor="middle">0.5</text>
<line x1="115.3" y1="454" x2="115.3" y2="455.8" stroke="#333333" stroke-width="0.8"/>
<text x="115.3" y="463.3" font-size="6.6" text-anchor="middle">1.0</text>
<line x1="131.1" y1="454" x2="131.1" y2="455.8" stroke="#333333" stroke-width="0.8"/>
<text x="131.1" y="463.3" font-size="6.6" text-anchor="middle">1.5</text>
<text x="88" y="472" font-size="6.6" text-anchor="middle">log<tspan font-size="4.3" dy="1.2">10</tspan><tspan dy="-1.2"> [Oligomycin] (μM)</tspan></text>
<text x="17.4" y="424.5" font-size="6.6" text-anchor="middle" transform="rotate(-90 17.4 424.5)">% Viability</text>
<text x="60" y="396" font-size="5.3">IC50<tspan font-size="3.4" dy="0.4">Vector</tspan><tspan dy="-0.4"> = 5.62 μM</tspan></text>
<text x="60" y="401.8" font-size="5.3">IC50<tspan font-size="3.4" dy="0.4">HULC</tspan><tspan dy="-0.4"> = 8.91 μM</tspan></text>
<line x1="37" y1="433.1" x2="121.7" y2="433.1" stroke="#c4c4c4" stroke-width="0.7" stroke-dasharray="1.2,0.9"/>
<line x1="108.8" y1="433.1" x2="108.8" y2="454" stroke="#555" stroke-width="0.5" stroke-dasharray="1.2,0.9"/>
<line x1="114.6" y1="433.1" x2="114.6" y2="454" stroke="#555" stroke-width="0.5" stroke-dasharray="1.2,0.9"/>
<path d="M45.4 417.4C48.5 417.38 58.23 417.32 64 417.3C69.77 417.28 75.68 417.18 80 417.3C84.32 417.42 86.58 417.62 89.9 418C93.22 418.38 97.42 419.02 99.9 419.6C102.38 420.18 103.15 420.52 104.8 421.5C106.45 422.48 108.43 424.08 109.8 425.5C111.17 426.92 112 428.3 113 430C114 431.7 115 433.63 115.8 435.7C116.6 437.77 117.07 440.02 117.8 442.4C118.53 444.78 119.55 448.07 120.2 450C120.85 451.93 121.45 453.33 121.7 454" stroke="#f02020" stroke-width="0.9" fill="none"/>
<path d="M45.4 417.4C48.47 417.43 59.08 417.33 63.8 417.6C68.52 417.87 70.38 418.5 73.7 419C77.02 419.5 80.38 419.88 83.7 420.6C87.02 421.32 90.9 422.4 93.6 423.3C96.3 424.2 98.03 424.93 99.9 426C101.77 427.07 103.15 428.25 104.8 429.7C106.45 431.15 108.17 432.62 109.8 434.7C111.43 436.78 113.1 439.65 114.6 442.2C116.1 444.75 117.8 448.03 118.8 450C119.8 451.97 120.3 453.33 120.6 454" stroke="#2323d8" stroke-width="0.9" fill="none"/>
<line x1="45.7" y1="414" x2="45.7" y2="410.8" stroke="#f02020" stroke-width="0.5"/>
<line x1="45" y1="410.8" x2="46.4" y2="410.8" stroke="#f02020" stroke-width="0.5"/>
<line x1="45" y1="414" x2="46.4" y2="414" stroke="#f02020" stroke-width="0.5"/>
<circle cx="45.7" cy="412.4" r="0.9" fill="#f02020" stroke="none" stroke-width="0.5"/>
<line x1="55.4" y1="416" x2="55.4" y2="412.8" stroke="#f02020" stroke-width="0.5"/>
<line x1="54.7" y1="412.8" x2="56.1" y2="412.8" stroke="#f02020" stroke-width="0.5"/>
<line x1="54.7" y1="416" x2="56.1" y2="416" stroke="#f02020" stroke-width="0.5"/>
<circle cx="55.4" cy="414.4" r="0.9" fill="#f02020" stroke="none" stroke-width="0.5"/>
<line x1="65.1" y1="419.2" x2="65.1" y2="415.6" stroke="#f02020" stroke-width="0.5"/>
<line x1="64.4" y1="415.6" x2="65.8" y2="415.6" stroke="#f02020" stroke-width="0.5"/>
<line x1="64.4" y1="419.2" x2="65.8" y2="419.2" stroke="#f02020" stroke-width="0.5"/>
<circle cx="65.1" cy="417.4" r="0.9" fill="#f02020" stroke="none" stroke-width="0.5"/>
<line x1="74.7" y1="420.7" x2="74.7" y2="417.1" stroke="#f02020" stroke-width="0.5"/>
<line x1="74" y1="417.1" x2="75.4" y2="417.1" stroke="#f02020" stroke-width="0.5"/>
<line x1="74" y1="420.7" x2="75.4" y2="420.7" stroke="#f02020" stroke-width="0.5"/>
<circle cx="74.7" cy="418.9" r="0.9" fill="#f02020" stroke="none" stroke-width="0.5"/>
<line x1="84.4" y1="421.3" x2="84.4" y2="418.5" stroke="#f02020" stroke-width="0.5"/>
<line x1="83.7" y1="418.5" x2="85.1" y2="418.5" stroke="#f02020" stroke-width="0.5"/>
<line x1="83.7" y1="421.3" x2="85.1" y2="421.3" stroke="#f02020" stroke-width="0.5"/>
<circle cx="84.4" cy="419.9" r="0.9" fill="#f02020" stroke="none" stroke-width="0.5"/>
<line x1="94.1" y1="422.5" x2="94.1" y2="419.3" stroke="#f02020" stroke-width="0.5"/>
<line x1="93.4" y1="419.3" x2="94.8" y2="419.3" stroke="#f02020" stroke-width="0.5"/>
<line x1="93.4" y1="422.5" x2="94.8" y2="422.5" stroke="#f02020" stroke-width="0.5"/>
<circle cx="94.1" cy="420.9" r="0.9" fill="#f02020" stroke="none" stroke-width="0.5"/>
<line x1="103.5" y1="425.1" x2="103.5" y2="421.9" stroke="#f02020" stroke-width="0.5"/>
<line x1="102.8" y1="421.9" x2="104.2" y2="421.9" stroke="#f02020" stroke-width="0.5"/>
<line x1="102.8" y1="425.1" x2="104.2" y2="425.1" stroke="#f02020" stroke-width="0.5"/>
<circle cx="103.5" cy="423.5" r="0.9" fill="#f02020" stroke="none" stroke-width="0.5"/>
<line x1="113.3" y1="430.5" x2="113.3" y2="424.5" stroke="#f02020" stroke-width="0.5"/>
<line x1="112.6" y1="424.5" x2="114" y2="424.5" stroke="#f02020" stroke-width="0.5"/>
<line x1="112.6" y1="430.5" x2="114" y2="430.5" stroke="#f02020" stroke-width="0.5"/>
<circle cx="113.3" cy="427.5" r="0.9" fill="#f02020" stroke="none" stroke-width="0.5"/>
<line x1="116.2" y1="437.1" x2="116.2" y2="433.9" stroke="#f02020" stroke-width="0.5"/>
<line x1="115.5" y1="433.9" x2="116.9" y2="433.9" stroke="#f02020" stroke-width="0.5"/>
<line x1="115.5" y1="437.1" x2="116.9" y2="437.1" stroke="#f02020" stroke-width="0.5"/>
<circle cx="116.2" cy="435.5" r="0.9" fill="#f02020" stroke="none" stroke-width="0.5"/>
<line x1="119.2" y1="449.9" x2="119.2" y2="447.5" stroke="#f02020" stroke-width="0.5"/>
<line x1="118.5" y1="447.5" x2="119.9" y2="447.5" stroke="#f02020" stroke-width="0.5"/>
<line x1="118.5" y1="449.9" x2="119.9" y2="449.9" stroke="#f02020" stroke-width="0.5"/>
<circle cx="119.2" cy="448.7" r="0.9" fill="#f02020" stroke="none" stroke-width="0.5"/>
<line x1="45.7" y1="418" x2="45.7" y2="410.8" stroke="#2323d8" stroke-width="0.5"/>
<line x1="45" y1="410.8" x2="46.4" y2="410.8" stroke="#2323d8" stroke-width="0.5"/>
<line x1="45" y1="418" x2="46.4" y2="418" stroke="#2323d8" stroke-width="0.5"/>
<circle cx="45.7" cy="414.4" r="0.9" fill="#2323d8" stroke="none" stroke-width="0.5"/>
<line x1="55.4" y1="419.4" x2="55.4" y2="414.4" stroke="#2323d8" stroke-width="0.5"/>
<line x1="54.7" y1="414.4" x2="56.1" y2="414.4" stroke="#2323d8" stroke-width="0.5"/>
<line x1="54.7" y1="419.4" x2="56.1" y2="419.4" stroke="#2323d8" stroke-width="0.5"/>
<circle cx="55.4" cy="416.9" r="0.9" fill="#2323d8" stroke="none" stroke-width="0.5"/>
<line x1="65.1" y1="423.3" x2="65.1" y2="412.5" stroke="#2323d8" stroke-width="0.5"/>
<line x1="64.4" y1="412.5" x2="65.8" y2="412.5" stroke="#2323d8" stroke-width="0.5"/>
<line x1="64.4" y1="423.3" x2="65.8" y2="423.3" stroke="#2323d8" stroke-width="0.5"/>
<circle cx="65.1" cy="417.9" r="0.9" fill="#2323d8" stroke="none" stroke-width="0.5"/>
<line x1="74.7" y1="422.9" x2="74.7" y2="419.9" stroke="#2323d8" stroke-width="0.5"/>
<line x1="74" y1="419.9" x2="75.4" y2="419.9" stroke="#2323d8" stroke-width="0.5"/>
<line x1="74" y1="422.9" x2="75.4" y2="422.9" stroke="#2323d8" stroke-width="0.5"/>
<circle cx="74.7" cy="421.4" r="0.9" fill="#2323d8" stroke="none" stroke-width="0.5"/>
<line x1="84.4" y1="424.4" x2="84.4" y2="416.4" stroke="#2323d8" stroke-width="0.5"/>
<line x1="83.7" y1="416.4" x2="85.1" y2="416.4" stroke="#2323d8" stroke-width="0.5"/>
<line x1="83.7" y1="424.4" x2="85.1" y2="424.4" stroke="#2323d8" stroke-width="0.5"/>
<circle cx="84.4" cy="420.4" r="0.9" fill="#2323d8" stroke="none" stroke-width="0.5"/>
<line x1="94.1" y1="427.2" x2="94.1" y2="419.6" stroke="#2323d8" stroke-width="0.5"/>
<line x1="93.4" y1="419.6" x2="94.8" y2="419.6" stroke="#2323d8" stroke-width="0.5"/>
<line x1="93.4" y1="427.2" x2="94.8" y2="427.2" stroke="#2323d8" stroke-width="0.5"/>
<circle cx="94.1" cy="423.4" r="0.9" fill="#2323d8" stroke="none" stroke-width="0.5"/>
<line x1="103.5" y1="433" x2="103.5" y2="423.8" stroke="#2323d8" stroke-width="0.5"/>
<line x1="102.8" y1="423.8" x2="104.2" y2="423.8" stroke="#2323d8" stroke-width="0.5"/>
<line x1="102.8" y1="433" x2="104.2" y2="433" stroke="#2323d8" stroke-width="0.5"/>
<circle cx="103.5" cy="428.4" r="0.9" fill="#2323d8" stroke="none" stroke-width="0.5"/>
<line x1="113.3" y1="433.4" x2="113.3" y2="429.4" stroke="#2323d8" stroke-width="0.5"/>
<line x1="112.6" y1="429.4" x2="114" y2="429.4" stroke="#2323d8" stroke-width="0.5"/>
<line x1="112.6" y1="433.4" x2="114" y2="433.4" stroke="#2323d8" stroke-width="0.5"/>
<circle cx="113.3" cy="431.4" r="0.9" fill="#2323d8" stroke="none" stroke-width="0.5"/>
<line x1="116.2" y1="443.3" x2="116.2" y2="440.3" stroke="#2323d8" stroke-width="0.5"/>
<line x1="115.5" y1="440.3" x2="116.9" y2="440.3" stroke="#2323d8" stroke-width="0.5"/>
<line x1="115.5" y1="443.3" x2="116.9" y2="443.3" stroke="#2323d8" stroke-width="0.5"/>
<circle cx="116.2" cy="441.8" r="0.9" fill="#2323d8" stroke="none" stroke-width="0.5"/>
<line x1="119.2" y1="448.9" x2="119.2" y2="446.5" stroke="#2323d8" stroke-width="0.5"/>
<line x1="118.5" y1="446.5" x2="119.9" y2="446.5" stroke="#2323d8" stroke-width="0.5"/>
<line x1="118.5" y1="448.9" x2="119.9" y2="448.9" stroke="#2323d8" stroke-width="0.5"/>
<circle cx="119.2" cy="447.7" r="0.9" fill="#2323d8" stroke="none" stroke-width="0.5"/>
<line x1="122" y1="402.4" x2="129" y2="402.4" stroke="#2323d8" stroke-width="0.8"/>
<circle cx="125.5" cy="402.4" r="0.9" fill="#2323d8" stroke="none" stroke-width="0.5"/>
<text x="130" y="404.6" font-size="5.9">Vector</text>
<line x1="122" y1="410.6" x2="129" y2="410.6" stroke="#f02020" stroke-width="0.8"/>
<circle cx="125.5" cy="410.6" r="0.9" fill="#f02020" stroke="none" stroke-width="0.5"/>
<text x="130" y="412.8" font-size="5.9">HULC</text>
<line x1="175.6" y1="393.4" x2="175.6" y2="454.6" stroke="#333333" stroke-width="0.8"/>
<line x1="173.8" y1="393.4" x2="175.6" y2="393.4" stroke="#333333" stroke-width="0.8"/>
<text x="172.6" y="396.38" font-size="6.6" text-anchor="end">15</text>
<line x1="173.8" y1="413.8" x2="175.6" y2="413.8" stroke="#333333" stroke-width="0.8"/>
<text x="172.6" y="416.78" font-size="6.6" text-anchor="end">10</text>
<line x1="173.8" y1="434.2" x2="175.6" y2="434.2" stroke="#333333" stroke-width="0.8"/>
<text x="172.6" y="437.18" font-size="6.6" text-anchor="end">5</text>
<line x1="173.8" y1="454.6" x2="175.6" y2="454.6" stroke="#333333" stroke-width="0.8"/>
<text x="172.6" y="457.58" font-size="6.6" text-anchor="end">0</text>
<rect x="183" y="429" width="15.6" height="25.6" fill="#d5d5d5"/>
<rect x="204.6" y="416.6" width="15.4" height="38" fill="#f9a1a1"/>
<line x1="175.6" y1="454.6" x2="225" y2="454.6" stroke="#333333" stroke-width="0.8"/>
<line x1="190.8" y1="454.6" x2="190.8" y2="456.4" stroke="#333333" stroke-width="0.8"/>
<line x1="212.3" y1="454.6" x2="212.3" y2="456.4" stroke="#333333" stroke-width="0.8"/>
<line x1="191" y1="431" x2="191" y2="427.2" stroke="#333333" stroke-width="0.75"/>
<line x1="188" y1="427.2" x2="194" y2="427.2" stroke="#333333" stroke-width="0.75"/>
<line x1="188" y1="431" x2="194" y2="431" stroke="#333333" stroke-width="0.75"/>
<line x1="212.5" y1="421.5" x2="212.5" y2="413.3" stroke="#333333" stroke-width="0.75"/>
<line x1="209.5" y1="413.3" x2="215.5" y2="413.3" stroke="#333333" stroke-width="0.75"/>
<line x1="209.5" y1="421.5" x2="215.5" y2="421.5" stroke="#333333" stroke-width="0.75"/>
<circle cx="190" cy="429.6" r="0.75" fill="#111" stroke="none" stroke-width="0.5"/>
<circle cx="191.8" cy="430.6" r="0.75" fill="#111" stroke="none" stroke-width="0.5"/>
<circle cx="190.8" cy="428.2" r="0.75" fill="#111" stroke="none" stroke-width="0.5"/>
<circle cx="212.8" cy="413" r="0.75" fill="#111" stroke="none" stroke-width="0.5"/>
<circle cx="211.4" cy="418.8" r="0.75" fill="#111" stroke="none" stroke-width="0.5"/>
<circle cx="213" cy="419.6" r="0.75" fill="#111" stroke="none" stroke-width="0.5"/>
<circle cx="212" cy="417.4" r="0.75" fill="#111" stroke="none" stroke-width="0.5"/>
<line x1="191" y1="406.4" x2="212" y2="406.4" stroke="#aaa" stroke-width="0.7"/>
<text x="201.3" y="404.6" font-size="7.6" text-anchor="middle" font-weight="bold">**</text>
<text x="190.8" y="464.2" font-size="6.6" text-anchor="middle">Vector</text>
<text x="212.3" y="464.2" font-size="6.6" text-anchor="middle">HULC</text>
<text x="161" y="425" font-size="6.6" text-anchor="middle" transform="rotate(-90 161 425)">IC50 value (μM)</text>
<text x="263.6" y="261.6" font-size="14" font-weight="bold">i</text>
<line x1="290" y1="265" x2="290" y2="337.2" stroke="#333333" stroke-width="0.8"/>
<line x1="288.2" y1="265" x2="290" y2="265" stroke="#333333" stroke-width="0.8"/>
<text x="287.2" y="267.98" font-size="6.6" text-anchor="end">800</text>
<line x1="288.2" y1="283" x2="290" y2="283" stroke="#333333" stroke-width="0.8"/>
<text x="287.2" y="285.98" font-size="6.6" text-anchor="end">600</text>
<line x1="288.2" y1="301.1" x2="290" y2="301.1" stroke="#333333" stroke-width="0.8"/>
<text x="287.2" y="304.08" font-size="6.6" text-anchor="end">400</text>
<line x1="288.2" y1="319.1" x2="290" y2="319.1" stroke="#333333" stroke-width="0.8"/>
<text x="287.2" y="322.08" font-size="6.6" text-anchor="end">200</text>
<line x1="288.2" y1="337.2" x2="290" y2="337.2" stroke="#333333" stroke-width="0.8"/>
<text x="287.2" y="340.18" font-size="6.6" text-anchor="end">0</text>
<line x1="290" y1="337.2" x2="383.6" y2="337.2" stroke="#333333" stroke-width="0.8"/>
<line x1="290" y1="337.2" x2="290" y2="339" stroke="#333333" stroke-width="0.8"/>
<text x="290" y="346.4" font-size="6.6" text-anchor="middle">0</text>
<line x1="303.37" y1="337.2" x2="303.37" y2="339" stroke="#333333" stroke-width="0.8"/>
<text x="303.37" y="346.4" font-size="6.6" text-anchor="middle">5</text>
<line x1="316.74" y1="337.2" x2="316.74" y2="339" stroke="#333333" stroke-width="0.8"/>
<text x="316.74" y="346.4" font-size="6.6" text-anchor="middle">10</text>
<line x1="330.11" y1="337.2" x2="330.11" y2="339" stroke="#333333" stroke-width="0.8"/>
<text x="330.11" y="346.4" font-size="6.6" text-anchor="middle">15</text>
<line x1="343.48" y1="337.2" x2="343.48" y2="339" stroke="#333333" stroke-width="0.8"/>
<text x="343.48" y="346.4" font-size="6.6" text-anchor="middle">20</text>
<line x1="356.85" y1="337.2" x2="356.85" y2="339" stroke="#333333" stroke-width="0.8"/>
<text x="356.85" y="346.4" font-size="6.6" text-anchor="middle">25</text>
<line x1="370.22" y1="337.2" x2="370.22" y2="339" stroke="#333333" stroke-width="0.8"/>
<text x="370.22" y="346.4" font-size="6.6" text-anchor="middle">30</text>
<line x1="383.59" y1="337.2" x2="383.59" y2="339" stroke="#333333" stroke-width="0.8"/>
<text x="383.59" y="346.4" font-size="6.6" text-anchor="middle">35</text>
<text x="339" y="356" font-size="6.6" text-anchor="middle">Time (day)</text>
<text x="269.8" y="298.4" font-size="6.6" text-anchor="middle" transform="rotate(-90 269.8 298.4)">Tumor volume (mm<tspan font-size="4.2" dy="-2.2">3</tspan><tspan dy="2.2">)</tspan></text>
<line x1="292.67" y1="335.6" x2="292.67" y2="333" stroke="#b3141c" stroke-width="0.9"/>
<line x1="291.47" y1="333" x2="293.87" y2="333" stroke="#b3141c" stroke-width="0.9"/>
<line x1="291.47" y1="335.6" x2="293.87" y2="335.6" stroke="#b3141c" stroke-width="0.9"/>
<line x1="298.02" y1="335" x2="298.02" y2="332" stroke="#b3141c" stroke-width="0.9"/>
<line x1="296.82" y1="332" x2="299.22" y2="332" stroke="#b3141c" stroke-width="0.9"/>
<line x1="296.82" y1="335" x2="299.22" y2="335" stroke="#b3141c" stroke-width="0.9"/>
<line x1="303.37" y1="334.4" x2="303.37" y2="331" stroke="#b3141c" stroke-width="0.9"/>
<line x1="302.17" y1="331" x2="304.57" y2="331" stroke="#b3141c" stroke-width="0.9"/>
<line x1="302.17" y1="334.4" x2="304.57" y2="334.4" stroke="#b3141c" stroke-width="0.9"/>
<line x1="308.72" y1="334" x2="308.72" y2="329.6" stroke="#b3141c" stroke-width="0.9"/>
<line x1="307.52" y1="329.6" x2="309.92" y2="329.6" stroke="#b3141c" stroke-width="0.9"/>
<line x1="307.52" y1="334" x2="309.92" y2="334" stroke="#b3141c" stroke-width="0.9"/>
<line x1="314.07" y1="334.4" x2="314.07" y2="330" stroke="#b3141c" stroke-width="0.9"/>
<line x1="312.87" y1="330" x2="315.27" y2="330" stroke="#b3141c" stroke-width="0.9"/>
<line x1="312.87" y1="334.4" x2="315.27" y2="334.4" stroke="#b3141c" stroke-width="0.9"/>
<line x1="319.41" y1="334" x2="319.41" y2="327.3" stroke="#b3141c" stroke-width="0.9"/>
<line x1="318.21" y1="327.3" x2="320.61" y2="327.3" stroke="#b3141c" stroke-width="0.9"/>
<line x1="318.21" y1="334" x2="320.61" y2="334" stroke="#b3141c" stroke-width="0.9"/>
<line x1="324.76" y1="336" x2="324.76" y2="322.8" stroke="#b3141c" stroke-width="0.9"/>
<line x1="323.56" y1="322.8" x2="325.96" y2="322.8" stroke="#b3141c" stroke-width="0.9"/>
<line x1="323.56" y1="336" x2="325.96" y2="336" stroke="#b3141c" stroke-width="0.9"/>
<line x1="330.11" y1="332" x2="330.11" y2="323.6" stroke="#b3141c" stroke-width="0.9"/>
<line x1="328.91" y1="323.6" x2="331.31" y2="323.6" stroke="#b3141c" stroke-width="0.9"/>
<line x1="328.91" y1="332" x2="331.31" y2="332" stroke="#b3141c" stroke-width="0.9"/>
<line x1="335.46" y1="332.8" x2="335.46" y2="318.4" stroke="#b3141c" stroke-width="0.9"/>
<line x1="334.26" y1="318.4" x2="336.66" y2="318.4" stroke="#b3141c" stroke-width="0.9"/>
<line x1="334.26" y1="332.8" x2="336.66" y2="332.8" stroke="#b3141c" stroke-width="0.9"/>
<line x1="340.81" y1="331.6" x2="340.81" y2="317.4" stroke="#b3141c" stroke-width="0.9"/>
<line x1="339.61" y1="317.4" x2="342.01" y2="317.4" stroke="#b3141c" stroke-width="0.9"/>
<line x1="339.61" y1="331.6" x2="342.01" y2="331.6" stroke="#b3141c" stroke-width="0.9"/>
<line x1="346.15" y1="328.8" x2="346.15" y2="305.5" stroke="#b3141c" stroke-width="0.9"/>
<line x1="344.95" y1="305.5" x2="347.35" y2="305.5" stroke="#b3141c" stroke-width="0.9"/>
<line x1="344.95" y1="328.8" x2="347.35" y2="328.8" stroke="#b3141c" stroke-width="0.9"/>
<line x1="351.5" y1="326" x2="351.5" y2="296" stroke="#b3141c" stroke-width="0.9"/>
<line x1="350.3" y1="296" x2="352.7" y2="296" stroke="#b3141c" stroke-width="0.9"/>
<line x1="350.3" y1="326" x2="352.7" y2="326" stroke="#b3141c" stroke-width="0.9"/>
<line x1="356.85" y1="320" x2="356.85" y2="294" stroke="#b3141c" stroke-width="0.9"/>
<line x1="355.65" y1="294" x2="358.05" y2="294" stroke="#b3141c" stroke-width="0.9"/>
<line x1="355.65" y1="320" x2="358.05" y2="320" stroke="#b3141c" stroke-width="0.9"/>
<line x1="362.2" y1="320.4" x2="362.2" y2="292.4" stroke="#b3141c" stroke-width="0.9"/>
<line x1="361" y1="292.4" x2="363.4" y2="292.4" stroke="#b3141c" stroke-width="0.9"/>
<line x1="361" y1="320.4" x2="363.4" y2="320.4" stroke="#b3141c" stroke-width="0.9"/>
<line x1="367.55" y1="314.4" x2="367.55" y2="282.6" stroke="#b3141c" stroke-width="0.9"/>
<line x1="366.35" y1="282.6" x2="368.75" y2="282.6" stroke="#b3141c" stroke-width="0.9"/>
<line x1="366.35" y1="314.4" x2="368.75" y2="314.4" stroke="#b3141c" stroke-width="0.9"/>
<line x1="372.89" y1="307" x2="372.89" y2="268" stroke="#b3141c" stroke-width="0.9"/>
<line x1="371.69" y1="268" x2="374.09" y2="268" stroke="#b3141c" stroke-width="0.9"/>
<line x1="371.69" y1="307" x2="374.09" y2="307" stroke="#b3141c" stroke-width="0.9"/>
<polyline points="292.67,334.3 298.02,333.6 303.37,332.8 308.72,332 314.07,332 319.41,331.3 324.76,329.5 330.11,328.6 335.46,326.6 340.81,324.3 346.15,317.4 351.5,311.1 356.85,309.4 362.2,306 367.55,298.4 372.89,287.4" stroke="#b3141c" stroke-width="0.9" fill="none"/>
<rect x="291.37" y="333" width="2.6" height="2.6" fill="#b3141c" rx="0.4"/>
<rect x="296.72" y="332.3" width="2.6" height="2.6" fill="#b3141c" rx="0.4"/>
<rect x="302.07" y="331.5" width="2.6" height="2.6" fill="#b3141c" rx="0.4"/>
<rect x="307.42" y="330.7" width="2.6" height="2.6" fill="#b3141c" rx="0.4"/>
<rect x="312.77" y="330.7" width="2.6" height="2.6" fill="#b3141c" rx="0.4"/>
<rect x="318.11" y="330" width="2.6" height="2.6" fill="#b3141c" rx="0.4"/>
<rect x="323.46" y="328.2" width="2.6" height="2.6" fill="#b3141c" rx="0.4"/>
<rect x="328.81" y="327.3" width="2.6" height="2.6" fill="#b3141c" rx="0.4"/>
<rect x="334.16" y="325.3" width="2.6" height="2.6" fill="#b3141c" rx="0.4"/>
<rect x="339.51" y="323" width="2.6" height="2.6" fill="#b3141c" rx="0.4"/>
<rect x="344.85" y="316.1" width="2.6" height="2.6" fill="#b3141c" rx="0.4"/>
<rect x="350.2" y="309.8" width="2.6" height="2.6" fill="#b3141c" rx="0.4"/>
<rect x="355.55" y="308.1" width="2.6" height="2.6" fill="#b3141c" rx="0.4"/>
<rect x="360.9" y="304.7" width="2.6" height="2.6" fill="#b3141c" rx="0.4"/>
<rect x="366.25" y="297.1" width="2.6" height="2.6" fill="#b3141c" rx="0.4"/>
<rect x="371.59" y="286.1" width="2.6" height="2.6" fill="#b3141c" rx="0.4"/>
<line x1="292.67" y1="336.4" x2="292.67" y2="334.6" stroke="#c6c600" stroke-width="0.6"/>
<line x1="291.67" y1="334.6" x2="293.67" y2="334.6" stroke="#c6c600" stroke-width="0.6"/>
<line x1="291.67" y1="336.4" x2="293.67" y2="336.4" stroke="#c6c600" stroke-width="0.6"/>
<line x1="298.02" y1="336" x2="298.02" y2="334.4" stroke="#c6c600" stroke-width="0.6"/>
<line x1="297.02" y1="334.4" x2="299.02" y2="334.4" stroke="#c6c600" stroke-width="0.6"/>
<line x1="297.02" y1="336" x2="299.02" y2="336" stroke="#c6c600" stroke-width="0.6"/>
<line x1="303.37" y1="337" x2="303.37" y2="335.2" stroke="#c6c600" stroke-width="0.6"/>
<line x1="302.37" y1="335.2" x2="304.37" y2="335.2" stroke="#c6c600" stroke-width="0.6"/>
<line x1="302.37" y1="337" x2="304.37" y2="337" stroke="#c6c600" stroke-width="0.6"/>
<line x1="308.72" y1="336.6" x2="308.72" y2="334.8" stroke="#c6c600" stroke-width="0.6"/>
<line x1="307.72" y1="334.8" x2="309.72" y2="334.8" stroke="#c6c600" stroke-width="0.6"/>
<line x1="307.72" y1="336.6" x2="309.72" y2="336.6" stroke="#c6c600" stroke-width="0.6"/>
<line x1="314.07" y1="336.4" x2="314.07" y2="334.6" stroke="#c6c600" stroke-width="0.6"/>
<line x1="313.07" y1="334.6" x2="315.07" y2="334.6" stroke="#c6c600" stroke-width="0.6"/>
<line x1="313.07" y1="336.4" x2="315.07" y2="336.4" stroke="#c6c600" stroke-width="0.6"/>
<line x1="319.41" y1="336.6" x2="319.41" y2="334.8" stroke="#c6c600" stroke-width="0.6"/>
<line x1="318.41" y1="334.8" x2="320.41" y2="334.8" stroke="#c6c600" stroke-width="0.6"/>
<line x1="318.41" y1="336.6" x2="320.41" y2="336.6" stroke="#c6c600" stroke-width="0.6"/>
<line x1="324.76" y1="336.6" x2="324.76" y2="334.8" stroke="#c6c600" stroke-width="0.6"/>
<line x1="323.76" y1="334.8" x2="325.76" y2="334.8" stroke="#c6c600" stroke-width="0.6"/>
<line x1="323.76" y1="336.6" x2="325.76" y2="336.6" stroke="#c6c600" stroke-width="0.6"/>
<line x1="330.11" y1="335.6" x2="330.11" y2="333.6" stroke="#c6c600" stroke-width="0.6"/>
<line x1="329.11" y1="333.6" x2="331.11" y2="333.6" stroke="#c6c600" stroke-width="0.6"/>
<line x1="329.11" y1="335.6" x2="331.11" y2="335.6" stroke="#c6c600" stroke-width="0.6"/>
<line x1="335.46" y1="335.6" x2="335.46" y2="333.6" stroke="#c6c600" stroke-width="0.6"/>
<line x1="334.46" y1="333.6" x2="336.46" y2="333.6" stroke="#c6c600" stroke-width="0.6"/>
<line x1="334.46" y1="335.6" x2="336.46" y2="335.6" stroke="#c6c600" stroke-width="0.6"/>
<line x1="340.81" y1="335.6" x2="340.81" y2="333.6" stroke="#c6c600" stroke-width="0.6"/>
<line x1="339.81" y1="333.6" x2="341.81" y2="333.6" stroke="#c6c600" stroke-width="0.6"/>
<line x1="339.81" y1="335.6" x2="341.81" y2="335.6" stroke="#c6c600" stroke-width="0.6"/>
<line x1="346.15" y1="335.4" x2="346.15" y2="333.6" stroke="#c6c600" stroke-width="0.6"/>
<line x1="345.15" y1="333.6" x2="347.15" y2="333.6" stroke="#c6c600" stroke-width="0.6"/>
<line x1="345.15" y1="335.4" x2="347.15" y2="335.4" stroke="#c6c600" stroke-width="0.6"/>
<line x1="351.5" y1="334.8" x2="351.5" y2="332.8" stroke="#c6c600" stroke-width="0.6"/>
<line x1="350.5" y1="332.8" x2="352.5" y2="332.8" stroke="#c6c600" stroke-width="0.6"/>
<line x1="350.5" y1="334.8" x2="352.5" y2="334.8" stroke="#c6c600" stroke-width="0.6"/>
<line x1="356.85" y1="334.4" x2="356.85" y2="332.4" stroke="#c6c600" stroke-width="0.6"/>
<line x1="355.85" y1="332.4" x2="357.85" y2="332.4" stroke="#c6c600" stroke-width="0.6"/>
<line x1="355.85" y1="334.4" x2="357.85" y2="334.4" stroke="#c6c600" stroke-width="0.6"/>
<line x1="362.2" y1="334" x2="362.2" y2="331.2" stroke="#c6c600" stroke-width="0.6"/>
<line x1="361.2" y1="331.2" x2="363.2" y2="331.2" stroke="#c6c600" stroke-width="0.6"/>
<line x1="361.2" y1="334" x2="363.2" y2="334" stroke="#c6c600" stroke-width="0.6"/>
<line x1="367.55" y1="333.2" x2="367.55" y2="327.6" stroke="#c6c600" stroke-width="0.6"/>
<line x1="366.55" y1="327.6" x2="368.55" y2="327.6" stroke="#c6c600" stroke-width="0.6"/>
<line x1="366.55" y1="333.2" x2="368.55" y2="333.2" stroke="#c6c600" stroke-width="0.6"/>
<line x1="372.89" y1="330.6" x2="372.89" y2="321.6" stroke="#c6c600" stroke-width="0.6"/>
<line x1="371.89" y1="321.6" x2="373.89" y2="321.6" stroke="#c6c600" stroke-width="0.6"/>
<line x1="371.89" y1="330.6" x2="373.89" y2="330.6" stroke="#c6c600" stroke-width="0.6"/>
<polyline points="292.67,335.6 298.02,335.3 303.37,336.2 308.72,335.7 314.07,335.6 319.41,335.7 324.76,335.7 330.11,334.6 335.46,334.6 340.81,334.6 346.15,334.6 351.5,333.8 356.85,333.5 362.2,332.6 367.55,330.6 372.89,327" stroke="#c6c600" stroke-width="0.8" fill="none"/>
<circle cx="292.67" cy="335.6" r="1.2" fill="#c6c600" stroke="none" stroke-width="0.5"/>
<circle cx="298.02" cy="335.3" r="1.2" fill="#c6c600" stroke="none" stroke-width="0.5"/>
<circle cx="303.37" cy="336.2" r="1.2" fill="#c6c600" stroke="none" stroke-width="0.5"/>
<circle cx="308.72" cy="335.7" r="1.2" fill="#c6c600" stroke="none" stroke-width="0.5"/>
<circle cx="314.07" cy="335.6" r="1.2" fill="#c6c600" stroke="none" stroke-width="0.5"/>
<circle cx="319.41" cy="335.7" r="1.2" fill="#c6c600" stroke="none" stroke-width="0.5"/>
<circle cx="324.76" cy="335.7" r="1.2" fill="#c6c600" stroke="none" stroke-width="0.5"/>
<circle cx="330.11" cy="334.6" r="1.2" fill="#c6c600" stroke="none" stroke-width="0.5"/>
<circle cx="335.46" cy="334.6" r="1.2" fill="#c6c600" stroke="none" stroke-width="0.5"/>
<circle cx="340.81" cy="334.6" r="1.2" fill="#c6c600" stroke="none" stroke-width="0.5"/>
<circle cx="346.15" cy="334.6" r="1.2" fill="#c6c600" stroke="none" stroke-width="0.5"/>
<circle cx="351.5" cy="333.8" r="1.2" fill="#c6c600" stroke="none" stroke-width="0.5"/>
<circle cx="356.85" cy="333.5" r="1.2" fill="#c6c600" stroke="none" stroke-width="0.5"/>
<circle cx="362.2" cy="332.6" r="1.2" fill="#c6c600" stroke="none" stroke-width="0.5"/>
<circle cx="367.55" cy="330.6" r="1.2" fill="#c6c600" stroke="none" stroke-width="0.5"/>
<circle cx="372.89" cy="327" r="1.2" fill="#c6c600" stroke="none" stroke-width="0.5"/>
<line x1="384" y1="269.6" x2="389.6" y2="269.6" stroke="#c6c600" stroke-width="0.8"/>
<circle cx="386.8" cy="269.6" r="1.1" fill="#c6c600" stroke="none" stroke-width="0.5"/>
<text x="392.4" y="271.8" font-size="5.9">Vector</text>
<line x1="384" y1="279.4" x2="389.6" y2="279.4" stroke="#b3141c" stroke-width="0.8"/>
<rect x="385.5" y="278.1" width="2.6" height="2.6" fill="#b3141c" rx="0.4"/>
<text x="392.4" y="281.6" font-size="5.9">HULC</text>
<polyline points="376.6,287.4 379,287.4 379,325.6 376.6,325.6" stroke="#888" stroke-width="0.6" fill="none"/>
<text x="384.8" y="309.4" font-size="6.6" text-anchor="middle">**</text>
<text x="263.6" y="382.6" font-size="14" font-weight="bold">j</text>
<line x1="305.6" y1="386" x2="305.6" y2="454.4" stroke="#333333" stroke-width="0.8"/>
<line x1="303.8" y1="386" x2="305.6" y2="386" stroke="#333333" stroke-width="0.8"/>
<text x="302.8" y="388.98" font-size="6.6" text-anchor="end">0.10</text>
<line x1="303.8" y1="399.7" x2="305.6" y2="399.7" stroke="#333333" stroke-width="0.8"/>
<text x="302.8" y="402.68" font-size="6.6" text-anchor="end">0.08</text>
<line x1="303.8" y1="413.4" x2="305.6" y2="413.4" stroke="#333333" stroke-width="0.8"/>
<text x="302.8" y="416.38" font-size="6.6" text-anchor="end">0.06</text>
<line x1="303.8" y1="427" x2="305.6" y2="427" stroke="#333333" stroke-width="0.8"/>
<text x="302.8" y="429.98" font-size="6.6" text-anchor="end">0.04</text>
<line x1="303.8" y1="440.7" x2="305.6" y2="440.7" stroke="#333333" stroke-width="0.8"/>
<text x="302.8" y="443.68" font-size="6.6" text-anchor="end">0.02</text>
<line x1="303.8" y1="454.4" x2="305.6" y2="454.4" stroke="#333333" stroke-width="0.8"/>
<text x="302.8" y="457.38" font-size="6.6" text-anchor="end">0.00</text>
<line x1="305.6" y1="454.4" x2="369" y2="454.4" stroke="#333333" stroke-width="0.8"/>
<line x1="321.4" y1="454.4" x2="321.4" y2="456.2" stroke="#333333" stroke-width="0.8"/>
<line x1="353" y1="454.4" x2="353" y2="456.2" stroke="#333333" stroke-width="0.8"/>
<text x="321.4" y="463.2" font-size="6.6" text-anchor="middle">Vector</text>
<text x="353" y="463.2" font-size="6.6" text-anchor="middle">HULC</text>
<text x="284.4" y="420" font-size="6.6" text-anchor="middle" transform="rotate(-90 284.4 420)">Lactate (nmol/mg protein)</text>
<polyline points="320.6,424.6 320.6,379.6 352.6,379.6 352.6,387.4" stroke="#999" stroke-width="0.6" fill="none"/>
<text x="337.4" y="380.55" font-size="5.9" text-anchor="middle" font-weight="bold">***</text>
<line x1="321.4" y1="428" x2="321.4" y2="436" stroke="#333" stroke-width="0.6"/>
<rect x="315" y="429" width="12.6" height="6.4" fill="#c6c400" stroke="#3a3a10" stroke-width="0.6"/>
<line x1="316" y1="428.2" x2="327" y2="428.2" stroke="#333" stroke-width="0.6"/>
<line x1="316" y1="432" x2="327" y2="432" stroke="#333" stroke-width="0.5"/>
<line x1="353" y1="388.4" x2="353" y2="409.6" stroke="#333" stroke-width="0.6"/>
<line x1="349.4" y1="388.4" x2="356.4" y2="388.4" stroke="#333" stroke-width="0.6"/>
<line x1="349.4" y1="409.6" x2="356.4" y2="409.6" stroke="#333" stroke-width="0.6"/>
<rect x="346.6" y="395.4" width="12.8" height="9.2" fill="#a00000" stroke="#3a0000" stroke-width="0.6"/>
<line x1="346.6" y1="401.4" x2="359.4" y2="401.4" stroke="#1a0000" stroke-width="0.7"/>
<text x="429.4" y="262" font-size="14" font-weight="bold">k</text>
<rect x="446.7" y="281" width="5.8" height="3.4" fill="#f4f000"/>
<rect x="449.15" y="281" width="0.9" height="3.4" fill="#ffffff"/>
<rect x="446.7" y="282.4" width="5.8" height="0.6" fill="#fbf8a0"/>
<rect x="454.56" y="281" width="5.8" height="3.4" fill="#f4f000"/>
<rect x="457.01" y="281" width="0.9" height="3.4" fill="#ffffff"/>
<rect x="454.56" y="282.4" width="5.8" height="0.6" fill="#fbf8a0"/>
<rect x="462.42" y="281" width="5.8" height="3.4" fill="#f4f000"/>
<rect x="464.87" y="281" width="0.9" height="3.4" fill="#ffffff"/>
<rect x="462.42" y="282.4" width="5.8" height="0.6" fill="#fbf8a0"/>
<rect x="470.28" y="281" width="5.8" height="3.4" fill="#f4f000"/>
<rect x="472.73" y="281" width="0.9" height="3.4" fill="#ffffff"/>
<rect x="470.28" y="282.4" width="5.8" height="0.6" fill="#fbf8a0"/>
<rect x="478.14" y="281" width="5.8" height="3.4" fill="#f4f000"/>
<rect x="480.59" y="281" width="0.9" height="3.4" fill="#ffffff"/>
<rect x="478.14" y="282.4" width="5.8" height="0.6" fill="#fbf8a0"/>
<rect x="486" y="281" width="5.8" height="3.4" fill="#f4f000"/>
<rect x="488.45" y="281" width="0.9" height="3.4" fill="#ffffff"/>
<rect x="486" y="282.4" width="5.8" height="0.6" fill="#fbf8a0"/>
<rect x="493.86" y="281" width="5.8" height="3.4" fill="#f4f000"/>
<rect x="496.31" y="281" width="0.9" height="3.4" fill="#ffffff"/>
<rect x="493.86" y="282.4" width="5.8" height="0.6" fill="#fbf8a0"/>
<rect x="501.72" y="281" width="5.8" height="3.4" fill="#f4f000"/>
<rect x="504.17" y="281" width="0.9" height="3.4" fill="#ffffff"/>
<rect x="501.72" y="282.4" width="5.8" height="0.6" fill="#fbf8a0"/>
<rect x="509.58" y="281" width="5.8" height="3.4" fill="#f4f000"/>
<rect x="512.03" y="281" width="0.9" height="3.4" fill="#ffffff"/>
<rect x="509.58" y="282.4" width="5.8" height="0.6" fill="#fbf8a0"/>
<rect x="517.44" y="281" width="5.8" height="3.4" fill="#f4f000"/>
<rect x="519.89" y="281" width="0.9" height="3.4" fill="#ffffff"/>
<rect x="517.44" y="282.4" width="5.8" height="0.6" fill="#fbf8a0"/>
<rect x="525.3" y="281" width="5.8" height="3.4" fill="#f4f000"/>
<rect x="527.75" y="281" width="0.9" height="3.4" fill="#ffffff"/>
<rect x="525.3" y="282.4" width="5.8" height="0.6" fill="#fbf8a0"/>
<rect x="533.16" y="281" width="5.8" height="3.4" fill="#f4f000"/>
<rect x="535.61" y="281" width="0.9" height="3.4" fill="#ffffff"/>
<rect x="533.16" y="282.4" width="5.8" height="0.6" fill="#fbf8a0"/>
<rect x="541.02" y="281" width="5.8" height="3.4" fill="#f4f000"/>
<rect x="543.47" y="281" width="0.9" height="3.4" fill="#ffffff"/>
<rect x="541.02" y="282.4" width="5.8" height="0.6" fill="#fbf8a0"/>
<rect x="548.88" y="281" width="5.8" height="3.4" fill="#f4f000"/>
<rect x="551.33" y="281" width="0.9" height="3.4" fill="#ffffff"/>
<rect x="548.88" y="282.4" width="5.8" height="0.6" fill="#fbf8a0"/>
<rect x="556.74" y="281" width="5.8" height="3.4" fill="#f4f000"/>
<rect x="559.19" y="281" width="0.9" height="3.4" fill="#ffffff"/>
<rect x="556.74" y="282.4" width="5.8" height="0.6" fill="#fbf8a0"/>
<rect x="564.6" y="281" width="5.8" height="3.4" fill="#f4f000"/>
<rect x="567.05" y="281" width="0.9" height="3.4" fill="#ffffff"/>
<rect x="564.6" y="282.4" width="5.8" height="0.6" fill="#fbf8a0"/>
<rect x="572.46" y="281" width="5.8" height="3.4" fill="#f4f000"/>
<rect x="574.91" y="281" width="0.9" height="3.4" fill="#ffffff"/>
<rect x="572.46" y="282.4" width="5.8" height="0.6" fill="#fbf8a0"/>
<rect x="580.32" y="281" width="5.8" height="3.4" fill="#f4f000"/>
<rect x="582.77" y="281" width="0.9" height="3.4" fill="#ffffff"/>
<rect x="580.32" y="282.4" width="5.8" height="0.6" fill="#fbf8a0"/>
<rect x="588.18" y="281" width="5.8" height="3.4" fill="#f4f000"/>
<rect x="590.63" y="281" width="0.9" height="3.4" fill="#ffffff"/>
<rect x="588.18" y="282.4" width="5.8" height="0.6" fill="#fbf8a0"/>
<rect x="596.04" y="281" width="5.8" height="3.4" fill="#f4f000"/>
<rect x="598.49" y="281" width="0.9" height="3.4" fill="#ffffff"/>
<rect x="596.04" y="282.4" width="5.8" height="0.6" fill="#fbf8a0"/>
<rect x="603.9" y="281" width="5.8" height="3.4" fill="#f4f000"/>
<rect x="606.35" y="281" width="0.9" height="3.4" fill="#ffffff"/>
<rect x="603.9" y="282.4" width="5.8" height="0.6" fill="#fbf8a0"/>
<ellipse cx="449.6" cy="279.3" rx="3.35" ry="1.85" fill="#0a0ae8" stroke="none" stroke-width="0.5"/>
<ellipse cx="449.6" cy="286.1" rx="3.35" ry="1.85" fill="#0a0ae8" stroke="none" stroke-width="0.5"/>
<ellipse cx="457.46" cy="279.3" rx="3.35" ry="1.85" fill="#0a0ae8" stroke="none" stroke-width="0.5"/>
<ellipse cx="457.46" cy="286.1" rx="3.35" ry="1.85" fill="#0a0ae8" stroke="none" stroke-width="0.5"/>
<ellipse cx="465.32" cy="279.3" rx="3.35" ry="1.85" fill="#0a0ae8" stroke="none" stroke-width="0.5"/>
<ellipse cx="465.32" cy="286.1" rx="3.35" ry="1.85" fill="#0a0ae8" stroke="none" stroke-width="0.5"/>
<ellipse cx="473.18" cy="279.3" rx="3.35" ry="1.85" fill="#0a0ae8" stroke="none" stroke-width="0.5"/>
<ellipse cx="473.18" cy="286.1" rx="3.35" ry="1.85" fill="#0a0ae8" stroke="none" stroke-width="0.5"/>
<ellipse cx="481.04" cy="279.3" rx="3.35" ry="1.85" fill="#0a0ae8" stroke="none" stroke-width="0.5"/>
<ellipse cx="481.04" cy="286.1" rx="3.35" ry="1.85" fill="#0a0ae8" stroke="none" stroke-width="0.5"/>
<ellipse cx="488.9" cy="279.3" rx="3.35" ry="1.85" fill="#0a0ae8" stroke="none" stroke-width="0.5"/>
<ellipse cx="488.9" cy="286.1" rx="3.35" ry="1.85" fill="#0a0ae8" stroke="none" stroke-width="0.5"/>
<ellipse cx="496.76" cy="279.3" rx="3.35" ry="1.85" fill="#0a0ae8" stroke="none" stroke-width="0.5"/>
<ellipse cx="496.76" cy="286.1" rx="3.35" ry="1.85" fill="#0a0ae8" stroke="none" stroke-width="0.5"/>
<ellipse cx="504.62" cy="279.3" rx="3.35" ry="1.85" fill="#0a0ae8" stroke="none" stroke-width="0.5"/>
<ellipse cx="504.62" cy="286.1" rx="3.35" ry="1.85" fill="#0a0ae8" stroke="none" stroke-width="0.5"/>
<ellipse cx="512.48" cy="279.3" rx="3.35" ry="1.85" fill="#0a0ae8" stroke="none" stroke-width="0.5"/>
<ellipse cx="512.48" cy="286.1" rx="3.35" ry="1.85" fill="#0a0ae8" stroke="none" stroke-width="0.5"/>
<ellipse cx="520.34" cy="279.3" rx="3.35" ry="1.85" fill="#0a0ae8" stroke="none" stroke-width="0.5"/>
<ellipse cx="520.34" cy="286.1" rx="3.35" ry="1.85" fill="#0a0ae8" stroke="none" stroke-width="0.5"/>
<ellipse cx="528.2" cy="279.3" rx="3.35" ry="1.85" fill="#0a0ae8" stroke="none" stroke-width="0.5"/>
<ellipse cx="528.2" cy="286.1" rx="3.35" ry="1.85" fill="#0a0ae8" stroke="none" stroke-width="0.5"/>
<ellipse cx="536.06" cy="279.3" rx="3.35" ry="1.85" fill="#0a0ae8" stroke="none" stroke-width="0.5"/>
<ellipse cx="536.06" cy="286.1" rx="3.35" ry="1.85" fill="#0a0ae8" stroke="none" stroke-width="0.5"/>
<ellipse cx="543.92" cy="279.3" rx="3.35" ry="1.85" fill="#0a0ae8" stroke="none" stroke-width="0.5"/>
<ellipse cx="543.92" cy="286.1" rx="3.35" ry="1.85" fill="#0a0ae8" stroke="none" stroke-width="0.5"/>
<ellipse cx="551.78" cy="279.3" rx="3.35" ry="1.85" fill="#0a0ae8" stroke="none" stroke-width="0.5"/>
<ellipse cx="551.78" cy="286.1" rx="3.35" ry="1.85" fill="#0a0ae8" stroke="none" stroke-width="0.5"/>
<ellipse cx="559.64" cy="279.3" rx="3.35" ry="1.85" fill="#0a0ae8" stroke="none" stroke-width="0.5"/>
<ellipse cx="559.64" cy="286.1" rx="3.35" ry="1.85" fill="#0a0ae8" stroke="none" stroke-width="0.5"/>
<ellipse cx="567.5" cy="279.3" rx="3.35" ry="1.85" fill="#0a0ae8" stroke="none" stroke-width="0.5"/>
<ellipse cx="567.5" cy="286.1" rx="3.35" ry="1.85" fill="#0a0ae8" stroke="none" stroke-width="0.5"/>
<ellipse cx="575.36" cy="279.3" rx="3.35" ry="1.85" fill="#0a0ae8" stroke="none" stroke-width="0.5"/>
<ellipse cx="575.36" cy="286.1" rx="3.35" ry="1.85" fill="#0a0ae8" stroke="none" stroke-width="0.5"/>
<ellipse cx="583.22" cy="279.3" rx="3.35" ry="1.85" fill="#0a0ae8" stroke="none" stroke-width="0.5"/>
<ellipse cx="583.22" cy="286.1" rx="3.35" ry="1.85" fill="#0a0ae8" stroke="none" stroke-width="0.5"/>
<ellipse cx="591.08" cy="279.3" rx="3.35" ry="1.85" fill="#0a0ae8" stroke="none" stroke-width="0.5"/>
<ellipse cx="591.08" cy="286.1" rx="3.35" ry="1.85" fill="#0a0ae8" stroke="none" stroke-width="0.5"/>
<ellipse cx="598.94" cy="279.3" rx="3.35" ry="1.85" fill="#0a0ae8" stroke="none" stroke-width="0.5"/>
<ellipse cx="598.94" cy="286.1" rx="3.35" ry="1.85" fill="#0a0ae8" stroke="none" stroke-width="0.5"/>
<ellipse cx="606.8" cy="279.3" rx="3.35" ry="1.85" fill="#0a0ae8" stroke="none" stroke-width="0.5"/>
<ellipse cx="606.8" cy="286.1" rx="3.35" ry="1.85" fill="#0a0ae8" stroke="none" stroke-width="0.5"/>
<rect x="463.2" y="272" width="3" height="24.5" fill="#1d9c8c"/>
<rect x="468.3" y="272" width="2.8" height="24.5" fill="#1d9c8c"/>
<rect x="463.2" y="278.6" width="3" height="6" fill="#f7a800"/>
<rect x="468.3" y="278.6" width="2.8" height="6" fill="#f7a800"/>
<rect x="466.2" y="279.6" width="2.1" height="4.2" fill="#f7a800"/>
<ellipse cx="462.6" cy="268.2" rx="2.1" ry="3.7" fill="#1d9c8c" stroke="none" stroke-width="0.5"/>
<ellipse cx="472.3" cy="268.2" rx="2.1" ry="3.7" fill="#1d9c8c" stroke="none" stroke-width="0.5"/>
<path d="M461.2 270.5 Q462.8 273.5 464.4 272.4 L466.2 272.4 L466.2 274 L463.2 274 Z" stroke="none" stroke-width="0.8" fill="#1d9c8c"/>
<path d="M473.6 270.5 Q472.3 273.5 470.6 272.4 L468.3 272.4 L468.3 274 L471.1 274 Z" stroke="none" stroke-width="0.8" fill="#1d9c8c"/>
<text x="439.2" y="272.8" font-size="6.3" stroke-width="0.25">FGFR1</text>
<text x="438.6" y="298" font-size="6.4" stroke-width="0.25">HULC</text>
<path d="M460.8 298.8 C458.4 297.6 458 295.6 459.8 294.6 C461.8 293.6 461.6 291.8 460.2 291.2 C459.4 290.2 460.6 288.6 462.2 289.4 C463.2 290 462.6 291.4 461.6 291.6" stroke="#e06a6a" stroke-width="0.75" fill="none"/>
<path d="M456.6 300.8 Q464.5 295.2 473.6 298.6" stroke="#e06a6a" stroke-width="0.7" fill="none"/>
<rect x="514.8" y="276.5" width="18" height="12.5" fill="#ffffff"/>
<path d="M515.4 272 L522.4 272 Q523.2 281.2 522.4 290.6 L515.4 290.6 Q520.2 281.2 515.4 272 Z" stroke="#b020b0" stroke-width="0.4" fill="#e63ee6"/>
<path d="M532.4 272 L525.2 272 Q524.4 281.2 525.2 290.6 L532.4 290.6 Q527.6 281.2 532.4 272 Z" stroke="#b020b0" stroke-width="0.4" fill="#e63ee6"/>
<path d="M519.6 274 Q521.4 281.2 519.6 288.6" stroke="#f8b8f8" stroke-width="0.7" fill="none"/>
<path d="M528.0 274 Q526.2 281.2 528.0 288.6" stroke="#f8b8f8" stroke-width="0.7" fill="none"/>
<line x1="523.6" y1="271.5" x2="523.6" y2="293.5" stroke="#111" stroke-width="0.9"/>
<path d="M523.6 297.2L521.5 292.4L525.7 292.4Z" stroke="none" stroke-width="0.8" fill="#111"/>
<text x="547.3" y="272" font-size="7.75">Extracellular space</text>
<text x="569.6" y="294.5" font-size="7.75">Cytoplasm</text>
<text x="509.6" y="303.8" font-size="7.75">Glucose</text>
<line x1="523.5" y1="311" x2="523.5" y2="333" stroke="#111" stroke-width="1" stroke-dasharray="2,1.2"/>
<path d="M523.5 337.4L521.4 332.6L525.6 332.6Z" stroke="none" stroke-width="0.8" fill="#111"/>
<text x="528.7" y="325.5" font-size="7.75">Glycolysis</text>
<text x="516.6" y="346.3" font-size="7.75">PEP</text>
<line x1="523.6" y1="351" x2="523.6" y2="366.5" stroke="#111" stroke-width="1.1"/>
<path d="M523.6 370.6L521.5 365.8L525.7 365.8Z" stroke="none" stroke-width="0.8" fill="#111"/>
<path d="M536 351.6 C529 353 526 357 526.6 361 C527.2 365.4 531 368 535.8 368.4" stroke="#2a2a2a" stroke-width="2.3" fill="none"/>
<path d="M536 351.6 C529 353 526 357 526.6 361 C527.2 365.4 531 368 535.8 368.4" stroke="#ffffff" stroke-width="1.1" fill="none"/>
<path d="M533.6 365.6 L537.4 368.6 L533.8 370.8" stroke="#222" stroke-width="0.6" fill="none"/>
<text x="538.2" y="354.8" font-size="7.75">ADP</text>
<text x="538.2" y="370.2" font-size="7.75">ATP</text>
<text x="512.2" y="380.5" font-size="7.75">Pyruvate</text>
<line x1="519.3" y1="387.6" x2="511.2" y2="401.5" stroke="#000" stroke-width="3.4"/>
<path d="M506.6 409.6L507.13 400.09L514.57 404.39Z" stroke="none" stroke-width="0.8" fill="#000"/>
<text x="486.8" y="418" font-size="7.75">Lactate</text>
<line x1="523.3" y1="419.5" x2="523.3" y2="434.5" stroke="#111" stroke-width="1.1"/>
<path d="M523.3 439.2L521.1 434.2L525.5 434.2Z" stroke="none" stroke-width="0.8" fill="#111"/>
<text x="521.9" y="450" font-size="7.75" text-anchor="middle">Cell</text>
<text x="522.1" y="459.5" font-size="7.75" text-anchor="middle">proliferation</text>
<ellipse cx="575.3" cy="413.3" rx="31.6" ry="22.7" fill="#fcc8fc" stroke="none" stroke-width="0.5"/>
<ellipse cx="576.7" cy="413.4" rx="24.7" ry="15.9" fill="#ffffff" stroke="none" stroke-width="0.5"/>
<clipPath id="mc"><ellipse cx="575.3" cy="413.3" rx="31.2" ry="22.3"/></clipPath>
<line x1="566.3" y1="394" x2="566.3" y2="402.4" stroke="#fcc8fc" stroke-width="3.4" stroke-linecap="round" clip-path="url(#mc)"/>
<line x1="580.6" y1="394" x2="580.6" y2="402.4" stroke="#fcc8fc" stroke-width="3.4" stroke-linecap="round" clip-path="url(#mc)"/>
<line x1="592.6" y1="394" x2="592.6" y2="402.4" stroke="#fcc8fc" stroke-width="3.4" stroke-linecap="round" clip-path="url(#mc)"/>
<line x1="563" y1="432" x2="563" y2="422.2" stroke="#fcc8fc" stroke-width="3.4" stroke-linecap="round" clip-path="url(#mc)"/>
<line x1="578.8" y1="432" x2="578.8" y2="422.2" stroke="#fcc8fc" stroke-width="3.4" stroke-linecap="round" clip-path="url(#mc)"/>
<line x1="591.5" y1="432" x2="591.5" y2="422.2" stroke="#fcc8fc" stroke-width="3.4" stroke-linecap="round" clip-path="url(#mc)"/>
<line x1="549" y1="412.8" x2="555" y2="412.8" stroke="#fcc8fc" stroke-width="3.4" stroke-linecap="round" clip-path="url(#mc)"/>
<line x1="604" y1="408.5" x2="598.6" y2="408.5" stroke="#fcc8fc" stroke-width="3.4" stroke-linecap="round" clip-path="url(#mc)"/>
<ellipse cx="575.3" cy="413.3" rx="31.6" ry="22.7" fill="none" stroke="#444" stroke-width="0.8"/>
<text x="554.2" y="410.6" font-size="7.75">Acetyl-CoA</text>
<text x="550.2" y="443" font-size="7.75">Mitochondrion</text>
<line x1="535" y1="389" x2="550.6" y2="401.2" stroke="#111" stroke-width="1"/>
<path d="M554.4 404.2L549.17 402.78L551.75 399.47Z" stroke="none" stroke-width="0.8" fill="#111"/>
<defs><linearGradient id="gp" x1="0" y1="0" x2="0" y2="1"><stop offset="0" stop-color="#fcd2d2"/><stop offset="0.5" stop-color="#f8a4a4"/><stop offset="1" stop-color="#f28a8a"/></linearGradient><linearGradient id="gb" x1="0" y1="0" x2="0" y2="1"><stop offset="0" stop-color="#d6eafc"/><stop offset="0.5" stop-color="#b0d6f8"/><stop offset="1" stop-color="#8cc2f4"/></linearGradient></defs>
<ellipse cx="448.5" cy="316.8" rx="11.8" ry="7" fill="url(#gp)" stroke="none" stroke-width="0.5"/>
<text x="449.6" y="319.2" font-size="6.4" text-anchor="middle">LDHA</text>
<ellipse cx="446.3" cy="336" rx="11.8" ry="7" fill="url(#gb)" stroke="none" stroke-width="0.5"/>
<text x="446.6" y="338.6" font-size="6.3" text-anchor="middle">PKM2</text>
<ellipse cx="502.5" cy="361.5" rx="11.6" ry="7" fill="url(#gb)" stroke="none" stroke-width="0.5"/>
<text x="502.6" y="364" font-size="6.3" text-anchor="middle">PKM2</text>
<ellipse cx="499.3" cy="385.6" rx="11.8" ry="6.8" fill="url(#gp)" stroke="none" stroke-width="0.5"/>
<text x="500" y="388.2" font-size="6.4" text-anchor="middle">LDHA</text>
<circle cx="488.8" cy="356.6" r="3.3" fill="#f3dc00" stroke="none" stroke-width="0.5"/>
<text x="488.8" y="358.7" font-size="5.8" text-anchor="middle">P</text>
<circle cx="485.2" cy="381.5" r="3.3" fill="#f3dc00" stroke="none" stroke-width="0.5"/>
<text x="485.2" y="383.6" font-size="5.8" text-anchor="middle">P</text>
<path d="M452 308.2 C456 301.6 461.5 299.4 467.6 299.4 C480 299.4 493 314 496.4 347.4" stroke="#111" stroke-width="1" fill="none"/>
<path d="M496.6 351.8L494.03 346.98L498.42 346.65Z" stroke="none" stroke-width="0.8" fill="#111"/>
</svg></body></html>
